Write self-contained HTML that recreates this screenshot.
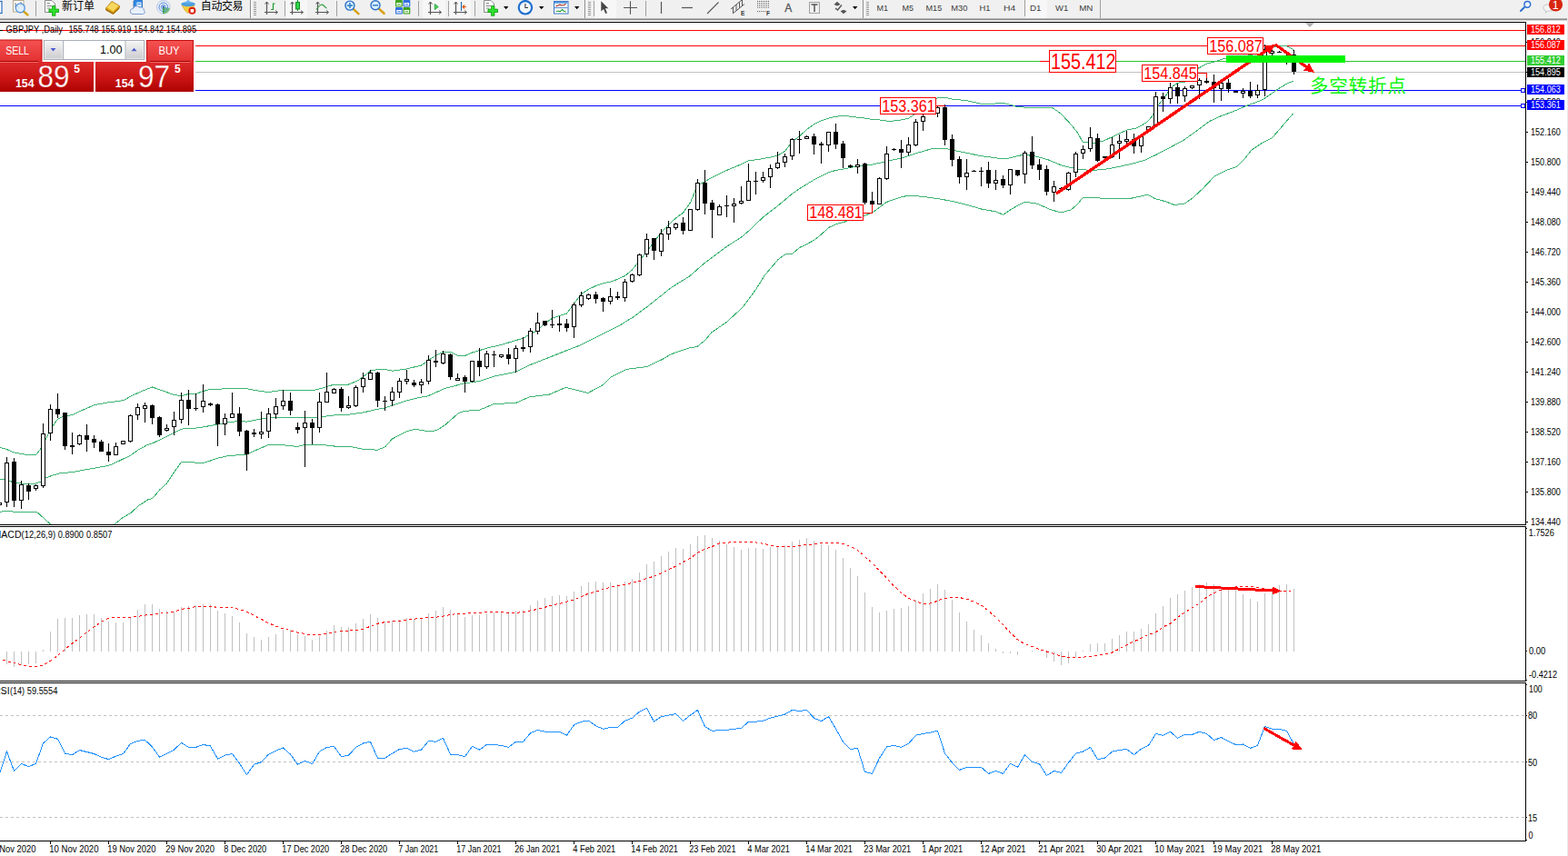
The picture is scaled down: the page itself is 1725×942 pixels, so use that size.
<!DOCTYPE html>
<html><head><meta charset="utf-8"><title>GBPJPY,Daily</title>
<style>html,body{margin:0;padding:0;background:#fff;}body{width:1725px;height:942px;overflow:hidden;font-family:"Liberation Sans",sans-serif;}svg{display:block;}</style>
</head><body>
<svg width="1725" height="942" viewBox="0 0 1725 942">
<rect x="0" y="0" width="1725" height="942" fill="#fff" />
<defs><clipPath id="cm"><rect x="0" y="25" width="1678" height="552"/></clipPath><clipPath id="cmacd"><rect x="0" y="580" width="1678" height="169"/></clipPath><clipPath id="crsi"><rect x="0" y="752" width="1678" height="173"/></clipPath><linearGradient id="gsell" x1="0" y1="0" x2="0" y2="1"><stop offset="0" stop-color="#f55252"/><stop offset="1" stop-color="#e23030"/></linearGradient><linearGradient id="gpan" x1="0" y1="0" x2="0" y2="1"><stop offset="0" stop-color="#dd2a2a"/><stop offset="0.5" stop-color="#cc1616"/><stop offset="1" stop-color="#ae0202"/></linearGradient><linearGradient id="gbtn" x1="0" y1="0" x2="0" y2="1"><stop offset="0" stop-color="#f4f4f4"/><stop offset="1" stop-color="#cdcdd0"/></linearGradient></defs>
<g clip-path="url(#cm)">
<g shape-rendering="crispEdges">
<rect x="0" y="33" width="1678" height="1" fill="#ff0000" />
<rect x="0" y="50" width="1678" height="1" fill="#ff0000" />
<rect x="0" y="67" width="1678" height="1" fill="#2fc72f" />
<rect x="0" y="79" width="1678" height="1" fill="#c0c0c0" />
<rect x="0" y="99" width="1678" height="1" fill="#0000ff" />
<rect x="0" y="116" width="1678" height="1" fill="#0000ff" />
</g>
<polyline points="0,492.3 7.6,494.6 15.3,497.9 28.7,500.3 40.1,500 44.9,493.7 50.1,484.1 57.3,469.8 63.5,461.2 70.7,457.7 79.3,456.8 87.9,452.6 104.2,445.5 119.5,442.8 135.7,440.7 145.3,435.4 156.7,430.2 167.6,426 177.8,429.6 191.1,434.4 199.5,435.7 207.6,433.4 215.6,433.4 223.4,430.6 231.5,428.3 238.9,428.3 251.5,427.5 270.6,427.5 282,429.8 295.4,431.6 311.5,429.1 327.9,429.4 344.2,429.8 354.7,427 366.1,423.5 383.3,423.1 392.9,419.3 399.6,414.5 407.6,408.2 415.5,406.3 423.5,406.5 431.5,408.2 447.6,405.9 463.4,402.1 471.5,396.4 479.5,391.2 487.6,387.2 497.2,388 503.5,391.4 511.5,391.4 519.6,388 535.4,383.2 551.5,379.4 567.5,374.6 575.6,372.3 583.4,367.5 591.4,363.7 599.5,355.7 607.5,350.3 615.5,347.5 623.5,345 631.6,334.1 639.6,323.6 647.6,318.2 655.5,314.6 663.5,311.7 671.5,310.2 679.5,307.3 687.6,303.5 695.6,296.8 703.4,286.9 711.5,276.8 719.5,266.2 727.6,255.6 735.5,247.2 743.5,240 751.5,234.2 759.6,222.8 767.4,203.7 775.4,199.8 783.5,195.1 799.5,187.4 815.6,180.7 823.4,176.9 834.7,175.4 847.5,173.1 855.5,171.2 863.5,166.4 871.6,155.9 879.6,149.8 887.6,142.5 895.5,136.8 903.5,132.9 911.5,130.1 919.5,128.3 927.6,127.2 935.6,128.2 951.5,130.1 959.5,131.4 967.6,132 979.1,133.5 991.5,132 999.6,130.1 1007.4,124.9 1015.4,118.2 1023.5,111.5 1031.5,107.7 1039.5,107.3 1047.5,109.1 1063.4,110.6 1079.5,114.4 1095.5,114 1103.5,113.4 1111.6,115.4 1119.6,117.7 1130,118.2 1144.9,118.2 1157.9,118.6 1167.1,125.1 1178.3,137.1 1185.7,146.4 1191.3,156.6 1204.3,157.2 1213.6,155.3 1226.6,149.2 1239.6,143.1 1250.7,140.9 1261.9,134.4 1267.4,127.9 1274.9,114.9 1282.3,105.6 1286,100 1287.5,96.9 1295.6,91.2 1303.4,90.2 1311.4,81.6 1317,75.9 1327.5,70.1 1335.5,68.2 1343.5,65.4 1349.1,64 1362.5,62.5 1375.5,60.6 1383.5,58.7 1391.5,54.8 1399.5,51.4 1407.6,50.6 1415.6,51 1421.7,53.9 1423.4,55.8" fill="none" stroke="#3cb371" stroke-width="1" shape-rendering="crispEdges" />
<polyline points="0,527.1 7.6,528.4 17.2,531.5 31.5,532.6 40.1,531.9 44.9,530 50.1,526.1 57.3,523.3 65.9,520.8 80.3,519.5 95.6,516.6 119.5,512.4 127.5,508.9 143.3,501.3 152.9,494.6 162.5,489.4 167.6,487.9 183.5,480.3 199.5,472.2 207.6,471.1 215.6,471.1 223.4,470 239.5,466.9 251.5,464.8 263.5,463.3 271.5,464.2 287.8,460.8 303.1,459.5 320.3,459.1 335.6,460 351.4,458.9 367.5,457 383.3,456.2 399.6,453.9 415.5,450.3 423.5,448.9 431.5,446.3 447.6,440.7 463.4,437.1 470,436.1 489.5,427.5 510.3,421.9 527.4,419.5 543.3,414.1 567.7,409.2 582.3,401.9 604.3,393.3 622.6,386 638.5,379.9 662.9,367.7 680,359.1 697.1,348.6 714.2,335.9 738.6,316.4 758.2,304.2 775.2,289.5 799.7,271.2 815.6,261 823.4,254.3 839.5,239 855.5,226.6 871.6,213.2 879.6,207.5 895.5,197.9 911.5,189.9 919.5,187.4 927.6,186.1 935.6,184.5 943.4,183 951.5,181.7 959.5,181.1 975.5,177.5 991.5,174 1007.4,168.9 1023.5,164.1 1031.5,163.1 1039.5,163.1 1047.5,165.1 1063.4,168.3 1079.5,171.7 1095.5,173.7 1103.5,175 1111.6,173.7 1119.6,171.7 1127.6,169.8 1130,170.6 1141.1,172.4 1154.1,176.2 1167.1,181.7 1178.3,184.5 1191.3,186.9 1204.3,187.3 1217.3,186 1232.2,183.2 1245.2,180.2 1260,176.2 1271.2,170.6 1282.3,165 1302.7,153.9 1315.7,144.6 1330.6,133.4 1343.6,127.5 1356.6,122.8 1369.6,117.1 1380.7,113 1390,109.3 1391.5,108 1399.5,102.6 1407.6,96.9 1415.6,92.1 1422.7,89.3" fill="none" stroke="#3cb371" stroke-width="1" shape-rendering="crispEdges" />
<polyline points="0,563.4 7.6,562.1 17.2,563.4 28.7,564 40.1,563 45.9,568.2 55.4,576.8 66.9,586.4 86,595 107,591.1 118.5,583.5 126.1,576.8 135.5,569.2 143.5,564.8 152.9,556.3 162.5,550 167.6,548.7 175.5,539.1 183.5,531.9 191.5,519.8 199.5,508.4 210.2,508.6 221.7,509.9 231.5,507 239.5,504.2 251.5,501.5 271.5,500.2 279.6,496.2 295.4,489.5 311.5,489.7 327.5,491.6 335.6,489.1 351.4,489.1 367.5,491 383.3,491 399.6,494.4 415.5,495.2 423.5,491.9 431.5,483 447.6,474.7 455.6,472.5 463.4,473.2 470,474.6 479.8,473.9 489.5,467.8 504.2,454.9 510.3,452.4 527.4,451.2 543.3,444.6 567.7,443.4 582.3,436.8 604.3,434.1 622.6,426.3 647,432.4 662.9,423.8 672.7,414.6 689.8,406.3 711.8,403.6 728.9,395.3 738.6,389.7 758.2,382.8 766.7,381.6 775.2,375 782.6,366 799.7,354.2 816.8,338.4 831.4,318.8 841.2,303 855.8,285.9 863.5,280.1 871.6,279.2 879.6,272.5 887.6,268.6 895.5,264.4 903.5,258.1 911.5,250.5 919.5,246.7 927.6,244.7 935.6,241.9 943.4,240 951.5,237.1 959.5,234.2 967.6,228.1 975.5,222.4 991.5,216.7 999.6,215.3 1015.4,216.3 1031.5,218.6 1047.5,221.4 1063.4,225.3 1079.5,230 1095.5,232.9 1103.5,236.3 1111.6,231 1119.6,226.2 1127.6,222.4 1130,222.6 1141.1,224.1 1154.1,230 1167.1,234.1 1178.3,230.9 1185.7,224.4 1191.3,217.4 1208,217.9 1226.6,218.9 1241.4,218.9 1254.4,216.1 1262.8,214.2 1271.2,218.9 1282.3,221.7 1291.6,225.4 1302.7,224.4 1312,217.9 1323.2,207.7 1336.2,193.8 1349.2,187.3 1360.3,183.6 1369.6,174.3 1377,165 1388.2,157.6 1399.3,152 1410.5,139 1422.5,125.1" fill="none" stroke="#3cb371" stroke-width="1" shape-rendering="crispEdges" />
<g shape-rendering="crispEdges">
<rect x="-1" y="552" width="1" height="5" fill="#000" />
<rect x="-3" y="553" width="5" height="3" fill="#000" />
<rect x="-2" y="554" width="3" height="1" fill="#fff" />
<rect x="7" y="503" width="1" height="55" fill="#000" />
<rect x="5" y="509" width="5" height="44" fill="#000" />
<rect x="6" y="510" width="3" height="42" fill="#fff" />
<rect x="15" y="504" width="1" height="54" fill="#000" />
<rect x="13" y="508" width="5" height="43" fill="#000" />
<rect x="23" y="529" width="1" height="31" fill="#000" />
<rect x="21" y="533" width="5" height="18" fill="#000" />
<rect x="22" y="534" width="3" height="16" fill="#fff" />
<rect x="31" y="532" width="1" height="18" fill="#000" />
<rect x="29" y="534" width="5" height="7" fill="#000" />
<rect x="39" y="533" width="1" height="7" fill="#000" />
<rect x="37" y="534" width="5" height="4" fill="#000" />
<rect x="38" y="535" width="3" height="2" fill="#fff" />
<rect x="47" y="466" width="1" height="71" fill="#000" />
<rect x="45" y="477" width="5" height="58" fill="#000" />
<rect x="46" y="478" width="3" height="56" fill="#fff" />
<rect x="55" y="445" width="1" height="40" fill="#000" />
<rect x="53" y="450" width="5" height="27" fill="#000" />
<rect x="54" y="451" width="3" height="25" fill="#fff" />
<rect x="63" y="433" width="1" height="27" fill="#000" />
<rect x="61" y="450" width="5" height="6" fill="#000" />
<rect x="71" y="454" width="1" height="41" fill="#000" />
<rect x="69" y="454" width="5" height="37" fill="#000" />
<rect x="79" y="476" width="1" height="24" fill="#000" />
<rect x="77" y="490" width="5" height="2" fill="#000" />
<rect x="87" y="478" width="1" height="12" fill="#000" />
<rect x="85" y="479" width="5" height="10" fill="#000" />
<rect x="86" y="480" width="3" height="8" fill="#fff" />
<rect x="95" y="467" width="1" height="30" fill="#000" />
<rect x="93" y="479" width="5" height="5" fill="#000" />
<rect x="103" y="479" width="1" height="14" fill="#000" />
<rect x="101" y="483" width="5" height="4" fill="#000" />
<rect x="111" y="484" width="1" height="13" fill="#000" />
<rect x="109" y="486" width="5" height="11" fill="#000" />
<rect x="119" y="488" width="1" height="20" fill="#000" />
<rect x="117" y="497" width="5" height="4" fill="#000" />
<rect x="127" y="487" width="1" height="14" fill="#000" />
<rect x="125" y="491" width="5" height="10" fill="#000" />
<rect x="126" y="492" width="3" height="8" fill="#fff" />
<rect x="135" y="485" width="1" height="4" fill="#000" />
<rect x="133" y="485" width="5" height="4" fill="#000" />
<rect x="134" y="486" width="3" height="2" fill="#fff" />
<rect x="143" y="456" width="1" height="31" fill="#000" />
<rect x="141" y="457" width="5" height="29" fill="#000" />
<rect x="142" y="458" width="3" height="27" fill="#fff" />
<rect x="151" y="444" width="1" height="18" fill="#000" />
<rect x="149" y="448" width="5" height="9" fill="#000" />
<rect x="150" y="449" width="3" height="7" fill="#fff" />
<rect x="159" y="443" width="1" height="22" fill="#000" />
<rect x="157" y="446" width="5" height="4" fill="#000" />
<rect x="158" y="447" width="3" height="2" fill="#fff" />
<rect x="167" y="445" width="1" height="22" fill="#000" />
<rect x="165" y="446" width="5" height="14" fill="#000" />
<rect x="175" y="458" width="1" height="23" fill="#000" />
<rect x="173" y="459" width="5" height="20" fill="#000" />
<rect x="183" y="467" width="1" height="8" fill="#000" />
<rect x="181" y="471" width="5" height="3" fill="#000" />
<rect x="182" y="472" width="3" height="1" fill="#fff" />
<rect x="191" y="453" width="1" height="26" fill="#000" />
<rect x="189" y="462" width="5" height="8" fill="#000" />
<rect x="190" y="463" width="3" height="6" fill="#fff" />
<rect x="199" y="432" width="1" height="34" fill="#000" />
<rect x="197" y="440" width="5" height="22" fill="#000" />
<rect x="198" y="441" width="3" height="20" fill="#fff" />
<rect x="207" y="429" width="1" height="39" fill="#000" />
<rect x="205" y="440" width="5" height="10" fill="#000" />
<rect x="215" y="433" width="1" height="19" fill="#000" />
<rect x="213" y="449" width="5" height="1" fill="#000" />
<rect x="223" y="423" width="1" height="31" fill="#000" />
<rect x="221" y="441" width="5" height="7" fill="#000" />
<rect x="222" y="442" width="3" height="5" fill="#fff" />
<rect x="231" y="443" width="1" height="4" fill="#000" />
<rect x="229" y="444" width="5" height="2" fill="#000" />
<rect x="239" y="444" width="1" height="47" fill="#000" />
<rect x="237" y="445" width="5" height="22" fill="#000" />
<rect x="247" y="455" width="1" height="24" fill="#000" />
<rect x="245" y="460" width="5" height="7" fill="#000" />
<rect x="246" y="461" width="3" height="5" fill="#fff" />
<rect x="255" y="432" width="1" height="28" fill="#000" />
<rect x="253" y="455" width="5" height="5" fill="#000" />
<rect x="254" y="456" width="3" height="3" fill="#fff" />
<rect x="263" y="448" width="1" height="32" fill="#000" />
<rect x="261" y="455" width="5" height="20" fill="#000" />
<rect x="271" y="473" width="1" height="45" fill="#000" />
<rect x="269" y="474" width="5" height="26" fill="#000" />
<rect x="279" y="472" width="1" height="9" fill="#000" />
<rect x="277" y="476" width="5" height="2" fill="#000" />
<rect x="287" y="453" width="1" height="30" fill="#000" />
<rect x="285" y="475" width="5" height="3" fill="#000" />
<rect x="286" y="476" width="3" height="1" fill="#fff" />
<rect x="295" y="449" width="1" height="33" fill="#000" />
<rect x="293" y="455" width="5" height="20" fill="#000" />
<rect x="294" y="456" width="3" height="18" fill="#fff" />
<rect x="303" y="438" width="1" height="23" fill="#000" />
<rect x="301" y="447" width="5" height="9" fill="#000" />
<rect x="302" y="448" width="3" height="7" fill="#fff" />
<rect x="311" y="429" width="1" height="22" fill="#000" />
<rect x="309" y="441" width="5" height="6" fill="#000" />
<rect x="310" y="442" width="3" height="4" fill="#fff" />
<rect x="319" y="432" width="1" height="25" fill="#000" />
<rect x="317" y="441" width="5" height="11" fill="#000" />
<rect x="327" y="465" width="1" height="12" fill="#000" />
<rect x="325" y="470" width="5" height="3" fill="#000" />
<rect x="335" y="452" width="1" height="62" fill="#000" />
<rect x="333" y="465" width="5" height="6" fill="#000" />
<rect x="334" y="466" width="3" height="4" fill="#fff" />
<rect x="343" y="461" width="1" height="28" fill="#000" />
<rect x="341" y="465" width="5" height="6" fill="#000" />
<rect x="351" y="432" width="1" height="44" fill="#000" />
<rect x="349" y="442" width="5" height="29" fill="#000" />
<rect x="350" y="443" width="3" height="27" fill="#fff" />
<rect x="359" y="410" width="1" height="33" fill="#000" />
<rect x="357" y="431" width="5" height="12" fill="#000" />
<rect x="358" y="432" width="3" height="10" fill="#fff" />
<rect x="367" y="427" width="1" height="6" fill="#000" />
<rect x="365" y="428" width="5" height="5" fill="#000" />
<rect x="366" y="429" width="3" height="3" fill="#fff" />
<rect x="375" y="426" width="1" height="27" fill="#000" />
<rect x="373" y="428" width="5" height="21" fill="#000" />
<rect x="383" y="436" width="1" height="14" fill="#000" />
<rect x="381" y="446" width="5" height="3" fill="#000" />
<rect x="382" y="447" width="3" height="1" fill="#fff" />
<rect x="391" y="424" width="1" height="24" fill="#000" />
<rect x="389" y="426" width="5" height="21" fill="#000" />
<rect x="390" y="427" width="3" height="19" fill="#fff" />
<rect x="399" y="410" width="1" height="22" fill="#000" />
<rect x="397" y="416" width="5" height="10" fill="#000" />
<rect x="398" y="417" width="3" height="8" fill="#fff" />
<rect x="407" y="407" width="1" height="11" fill="#000" />
<rect x="405" y="410" width="5" height="8" fill="#000" />
<rect x="406" y="411" width="3" height="6" fill="#fff" />
<rect x="415" y="409" width="1" height="39" fill="#000" />
<rect x="413" y="410" width="5" height="31" fill="#000" />
<rect x="423" y="436" width="1" height="16" fill="#000" />
<rect x="421" y="441" width="5" height="1" fill="#000" />
<rect x="431" y="426" width="1" height="21" fill="#000" />
<rect x="429" y="431" width="5" height="10" fill="#000" />
<rect x="430" y="432" width="3" height="8" fill="#fff" />
<rect x="439" y="416" width="1" height="22" fill="#000" />
<rect x="437" y="419" width="5" height="13" fill="#000" />
<rect x="438" y="420" width="3" height="11" fill="#fff" />
<rect x="447" y="407" width="1" height="16" fill="#000" />
<rect x="445" y="417" width="5" height="3" fill="#000" />
<rect x="446" y="418" width="3" height="1" fill="#fff" />
<rect x="455" y="418" width="1" height="8" fill="#000" />
<rect x="453" y="421" width="5" height="3" fill="#000" />
<rect x="463" y="417" width="1" height="16" fill="#000" />
<rect x="461" y="420" width="5" height="4" fill="#000" />
<rect x="462" y="421" width="3" height="2" fill="#fff" />
<rect x="471" y="391" width="1" height="32" fill="#000" />
<rect x="469" y="396" width="5" height="24" fill="#000" />
<rect x="470" y="397" width="3" height="22" fill="#fff" />
<rect x="479" y="385" width="1" height="19" fill="#000" />
<rect x="477" y="397" width="5" height="2" fill="#000" />
<rect x="487" y="386" width="1" height="15" fill="#000" />
<rect x="485" y="389" width="5" height="11" fill="#000" />
<rect x="486" y="390" width="3" height="9" fill="#fff" />
<rect x="495" y="389" width="1" height="29" fill="#000" />
<rect x="493" y="390" width="5" height="25" fill="#000" />
<rect x="503" y="411" width="1" height="8" fill="#000" />
<rect x="501" y="416" width="5" height="3" fill="#000" />
<rect x="502" y="417" width="3" height="1" fill="#fff" />
<rect x="511" y="413" width="1" height="19" fill="#000" />
<rect x="509" y="415" width="5" height="5" fill="#000" />
<rect x="519" y="397" width="1" height="24" fill="#000" />
<rect x="517" y="397" width="5" height="23" fill="#000" />
<rect x="518" y="398" width="3" height="21" fill="#fff" />
<rect x="527" y="383" width="1" height="31" fill="#000" />
<rect x="525" y="397" width="5" height="7" fill="#000" />
<rect x="535" y="386" width="1" height="20" fill="#000" />
<rect x="533" y="389" width="5" height="15" fill="#000" />
<rect x="534" y="390" width="3" height="13" fill="#fff" />
<rect x="543" y="386" width="1" height="18" fill="#000" />
<rect x="541" y="390" width="5" height="1" fill="#000" />
<rect x="551" y="390" width="1" height="4" fill="#000" />
<rect x="549" y="390" width="5" height="3" fill="#000" />
<rect x="550" y="391" width="3" height="1" fill="#fff" />
<rect x="559" y="383" width="1" height="18" fill="#000" />
<rect x="557" y="390" width="5" height="5" fill="#000" />
<rect x="567" y="380" width="1" height="30" fill="#000" />
<rect x="565" y="383" width="5" height="12" fill="#000" />
<rect x="566" y="384" width="3" height="10" fill="#fff" />
<rect x="575" y="371" width="1" height="16" fill="#000" />
<rect x="573" y="382" width="5" height="2" fill="#000" />
<rect x="583" y="361" width="1" height="27" fill="#000" />
<rect x="581" y="364" width="5" height="18" fill="#000" />
<rect x="582" y="365" width="3" height="16" fill="#fff" />
<rect x="591" y="344" width="1" height="24" fill="#000" />
<rect x="589" y="355" width="5" height="10" fill="#000" />
<rect x="590" y="356" width="3" height="8" fill="#fff" />
<rect x="599" y="353" width="1" height="6" fill="#000" />
<rect x="597" y="353" width="5" height="5" fill="#000" />
<rect x="607" y="341" width="1" height="20" fill="#000" />
<rect x="605" y="357" width="5" height="1" fill="#000" />
<rect x="615" y="348" width="1" height="17" fill="#000" />
<rect x="613" y="356" width="5" height="2" fill="#000" />
<rect x="623" y="351" width="1" height="14" fill="#000" />
<rect x="621" y="356" width="5" height="5" fill="#000" />
<rect x="631" y="333" width="1" height="39" fill="#000" />
<rect x="629" y="335" width="5" height="25" fill="#000" />
<rect x="630" y="336" width="3" height="23" fill="#fff" />
<rect x="639" y="321" width="1" height="17" fill="#000" />
<rect x="637" y="325" width="5" height="11" fill="#000" />
<rect x="638" y="326" width="3" height="9" fill="#fff" />
<rect x="647" y="323" width="1" height="7" fill="#000" />
<rect x="645" y="324" width="5" height="5" fill="#000" />
<rect x="646" y="325" width="3" height="3" fill="#fff" />
<rect x="655" y="321" width="1" height="13" fill="#000" />
<rect x="653" y="324" width="5" height="5" fill="#000" />
<rect x="663" y="327" width="1" height="16" fill="#000" />
<rect x="661" y="328" width="5" height="4" fill="#000" />
<rect x="671" y="317" width="1" height="18" fill="#000" />
<rect x="669" y="326" width="5" height="6" fill="#000" />
<rect x="670" y="327" width="3" height="4" fill="#fff" />
<rect x="679" y="321" width="1" height="9" fill="#000" />
<rect x="677" y="326" width="5" height="2" fill="#000" />
<rect x="687" y="307" width="1" height="25" fill="#000" />
<rect x="685" y="310" width="5" height="18" fill="#000" />
<rect x="686" y="311" width="3" height="16" fill="#fff" />
<rect x="695" y="301" width="1" height="10" fill="#000" />
<rect x="693" y="302" width="5" height="8" fill="#000" />
<rect x="694" y="303" width="3" height="6" fill="#fff" />
<rect x="703" y="279" width="1" height="25" fill="#000" />
<rect x="701" y="280" width="5" height="23" fill="#000" />
<rect x="702" y="281" width="3" height="21" fill="#fff" />
<rect x="711" y="257" width="1" height="26" fill="#000" />
<rect x="709" y="263" width="5" height="17" fill="#000" />
<rect x="710" y="264" width="3" height="15" fill="#fff" />
<rect x="719" y="262" width="1" height="24" fill="#000" />
<rect x="717" y="262" width="5" height="14" fill="#000" />
<rect x="727" y="252" width="1" height="30" fill="#000" />
<rect x="725" y="257" width="5" height="20" fill="#000" />
<rect x="726" y="258" width="3" height="18" fill="#fff" />
<rect x="735" y="243" width="1" height="21" fill="#000" />
<rect x="733" y="250" width="5" height="8" fill="#000" />
<rect x="734" y="251" width="3" height="6" fill="#fff" />
<rect x="743" y="245" width="1" height="8" fill="#000" />
<rect x="741" y="246" width="5" height="5" fill="#000" />
<rect x="742" y="247" width="3" height="3" fill="#fff" />
<rect x="751" y="239" width="1" height="19" fill="#000" />
<rect x="749" y="245" width="5" height="9" fill="#000" />
<rect x="759" y="230" width="1" height="24" fill="#000" />
<rect x="757" y="230" width="5" height="24" fill="#000" />
<rect x="758" y="231" width="3" height="22" fill="#fff" />
<rect x="767" y="197" width="1" height="35" fill="#000" />
<rect x="765" y="201" width="5" height="30" fill="#000" />
<rect x="766" y="202" width="3" height="28" fill="#fff" />
<rect x="775" y="187" width="1" height="49" fill="#000" />
<rect x="773" y="201" width="5" height="23" fill="#000" />
<rect x="783" y="220" width="1" height="42" fill="#000" />
<rect x="781" y="223" width="5" height="8" fill="#000" />
<rect x="791" y="225" width="1" height="12" fill="#000" />
<rect x="789" y="227" width="5" height="10" fill="#000" />
<rect x="790" y="228" width="3" height="8" fill="#fff" />
<rect x="799" y="215" width="1" height="24" fill="#000" />
<rect x="797" y="226" width="5" height="1" fill="#000" />
<rect x="807" y="218" width="1" height="27" fill="#000" />
<rect x="805" y="224" width="5" height="3" fill="#000" />
<rect x="806" y="225" width="3" height="1" fill="#fff" />
<rect x="815" y="205" width="1" height="20" fill="#000" />
<rect x="813" y="221" width="5" height="3" fill="#000" />
<rect x="814" y="222" width="3" height="1" fill="#fff" />
<rect x="823" y="180" width="1" height="41" fill="#000" />
<rect x="821" y="199" width="5" height="22" fill="#000" />
<rect x="822" y="200" width="3" height="20" fill="#fff" />
<rect x="831" y="189" width="1" height="25" fill="#000" />
<rect x="829" y="199" width="5" height="1" fill="#000" />
<rect x="839" y="189" width="1" height="12" fill="#000" />
<rect x="837" y="195" width="5" height="4" fill="#000" />
<rect x="838" y="196" width="3" height="2" fill="#fff" />
<rect x="847" y="181" width="1" height="26" fill="#000" />
<rect x="845" y="185" width="5" height="10" fill="#000" />
<rect x="846" y="186" width="3" height="8" fill="#fff" />
<rect x="855" y="167" width="1" height="19" fill="#000" />
<rect x="853" y="179" width="5" height="6" fill="#000" />
<rect x="854" y="180" width="3" height="4" fill="#fff" />
<rect x="863" y="169" width="1" height="15" fill="#000" />
<rect x="861" y="172" width="5" height="7" fill="#000" />
<rect x="862" y="173" width="3" height="5" fill="#fff" />
<rect x="871" y="152" width="1" height="24" fill="#000" />
<rect x="869" y="153" width="5" height="19" fill="#000" />
<rect x="870" y="154" width="3" height="17" fill="#fff" />
<rect x="879" y="144" width="1" height="25" fill="#000" />
<rect x="877" y="153" width="5" height="1" fill="#000" />
<rect x="887" y="149" width="1" height="4" fill="#000" />
<rect x="885" y="150" width="5" height="3" fill="#000" />
<rect x="886" y="151" width="3" height="1" fill="#fff" />
<rect x="895" y="147" width="1" height="23" fill="#000" />
<rect x="893" y="150" width="5" height="9" fill="#000" />
<rect x="903" y="156" width="1" height="24" fill="#000" />
<rect x="901" y="158" width="5" height="2" fill="#000" />
<rect x="911" y="145" width="1" height="22" fill="#000" />
<rect x="909" y="145" width="5" height="15" fill="#000" />
<rect x="910" y="146" width="3" height="13" fill="#fff" />
<rect x="919" y="136" width="1" height="28" fill="#000" />
<rect x="917" y="145" width="5" height="14" fill="#000" />
<rect x="927" y="155" width="1" height="30" fill="#000" />
<rect x="925" y="158" width="5" height="16" fill="#000" />
<rect x="935" y="181" width="1" height="4" fill="#000" />
<rect x="933" y="182" width="5" height="2" fill="#000" />
<rect x="943" y="175" width="1" height="16" fill="#000" />
<rect x="941" y="181" width="5" height="3" fill="#000" />
<rect x="942" y="182" width="3" height="1" fill="#fff" />
<rect x="951" y="179" width="1" height="46" fill="#000" />
<rect x="949" y="180" width="5" height="43" fill="#000" />
<rect x="959" y="211" width="1" height="23" fill="#000" />
<rect x="957" y="221" width="5" height="4" fill="#000" />
<rect x="967" y="195" width="1" height="30" fill="#000" />
<rect x="965" y="196" width="5" height="29" fill="#000" />
<rect x="966" y="197" width="3" height="27" fill="#fff" />
<rect x="975" y="161" width="1" height="37" fill="#000" />
<rect x="973" y="169" width="5" height="28" fill="#000" />
<rect x="974" y="170" width="3" height="26" fill="#fff" />
<rect x="983" y="163" width="1" height="3" fill="#000" />
<rect x="981" y="164" width="5" height="1" fill="#000" />
<rect x="991" y="154" width="1" height="31" fill="#000" />
<rect x="989" y="164" width="5" height="4" fill="#000" />
<rect x="999" y="151" width="1" height="20" fill="#000" />
<rect x="997" y="159" width="5" height="9" fill="#000" />
<rect x="998" y="160" width="3" height="7" fill="#fff" />
<rect x="1007" y="131" width="1" height="30" fill="#000" />
<rect x="1005" y="134" width="5" height="26" fill="#000" />
<rect x="1006" y="135" width="3" height="24" fill="#fff" />
<rect x="1015" y="124" width="1" height="20" fill="#000" />
<rect x="1013" y="128" width="5" height="6" fill="#000" />
<rect x="1014" y="129" width="3" height="4" fill="#fff" />
<rect x="1023" y="124" width="1" height="2" fill="#000" />
<rect x="1021" y="124" width="5" height="2" fill="#000" />
<rect x="1031" y="117" width="1" height="12" fill="#000" />
<rect x="1029" y="118" width="5" height="7" fill="#000" />
<rect x="1030" y="119" width="3" height="5" fill="#fff" />
<rect x="1039" y="115" width="1" height="45" fill="#000" />
<rect x="1037" y="118" width="5" height="36" fill="#000" />
<rect x="1047" y="148" width="1" height="35" fill="#000" />
<rect x="1045" y="153" width="5" height="23" fill="#000" />
<rect x="1055" y="172" width="1" height="30" fill="#000" />
<rect x="1053" y="175" width="5" height="20" fill="#000" />
<rect x="1063" y="175" width="1" height="34" fill="#000" />
<rect x="1061" y="190" width="5" height="5" fill="#000" />
<rect x="1062" y="191" width="3" height="3" fill="#fff" />
<rect x="1071" y="187" width="1" height="2" fill="#000" />
<rect x="1069" y="188" width="5" height="1" fill="#000" />
<rect x="1079" y="184" width="1" height="21" fill="#000" />
<rect x="1077" y="188" width="5" height="1" fill="#000" />
<rect x="1087" y="178" width="1" height="29" fill="#000" />
<rect x="1085" y="187" width="5" height="15" fill="#000" />
<rect x="1095" y="187" width="1" height="22" fill="#000" />
<rect x="1093" y="198" width="5" height="4" fill="#000" />
<rect x="1094" y="199" width="3" height="2" fill="#fff" />
<rect x="1103" y="193" width="1" height="14" fill="#000" />
<rect x="1101" y="197" width="5" height="7" fill="#000" />
<rect x="1111" y="186" width="1" height="28" fill="#000" />
<rect x="1109" y="186" width="5" height="18" fill="#000" />
<rect x="1110" y="187" width="3" height="16" fill="#fff" />
<rect x="1119" y="187" width="1" height="7" fill="#000" />
<rect x="1117" y="187" width="5" height="6" fill="#000" />
<rect x="1127" y="166" width="1" height="36" fill="#000" />
<rect x="1125" y="168" width="5" height="24" fill="#000" />
<rect x="1126" y="169" width="3" height="22" fill="#fff" />
<rect x="1135" y="150" width="1" height="36" fill="#000" />
<rect x="1133" y="167" width="5" height="15" fill="#000" />
<rect x="1143" y="175" width="1" height="23" fill="#000" />
<rect x="1141" y="181" width="5" height="6" fill="#000" />
<rect x="1151" y="182" width="1" height="33" fill="#000" />
<rect x="1149" y="186" width="5" height="25" fill="#000" />
<rect x="1159" y="199" width="1" height="23" fill="#000" />
<rect x="1157" y="205" width="5" height="7" fill="#000" />
<rect x="1158" y="206" width="3" height="5" fill="#fff" />
<rect x="1167" y="206" width="1" height="3" fill="#000" />
<rect x="1165" y="207" width="5" height="1" fill="#000" />
<rect x="1175" y="189" width="1" height="21" fill="#000" />
<rect x="1173" y="190" width="5" height="19" fill="#000" />
<rect x="1174" y="191" width="3" height="17" fill="#fff" />
<rect x="1183" y="167" width="1" height="28" fill="#000" />
<rect x="1181" y="169" width="5" height="21" fill="#000" />
<rect x="1182" y="170" width="3" height="19" fill="#fff" />
<rect x="1191" y="160" width="1" height="15" fill="#000" />
<rect x="1189" y="164" width="5" height="5" fill="#000" />
<rect x="1190" y="165" width="3" height="3" fill="#fff" />
<rect x="1199" y="140" width="1" height="27" fill="#000" />
<rect x="1197" y="151" width="5" height="13" fill="#000" />
<rect x="1198" y="152" width="3" height="11" fill="#fff" />
<rect x="1207" y="147" width="1" height="31" fill="#000" />
<rect x="1205" y="152" width="5" height="25" fill="#000" />
<rect x="1215" y="172" width="1" height="2" fill="#000" />
<rect x="1213" y="172" width="5" height="2" fill="#000" />
<rect x="1223" y="151" width="1" height="23" fill="#000" />
<rect x="1221" y="159" width="5" height="14" fill="#000" />
<rect x="1222" y="160" width="3" height="12" fill="#fff" />
<rect x="1231" y="148" width="1" height="27" fill="#000" />
<rect x="1229" y="155" width="5" height="3" fill="#000" />
<rect x="1230" y="156" width="3" height="1" fill="#fff" />
<rect x="1239" y="144" width="1" height="14" fill="#000" />
<rect x="1237" y="153" width="5" height="3" fill="#000" />
<rect x="1238" y="154" width="3" height="1" fill="#fff" />
<rect x="1247" y="147" width="1" height="22" fill="#000" />
<rect x="1245" y="153" width="5" height="8" fill="#000" />
<rect x="1255" y="149" width="1" height="19" fill="#000" />
<rect x="1253" y="149" width="5" height="12" fill="#000" />
<rect x="1254" y="150" width="3" height="10" fill="#fff" />
<rect x="1263" y="139" width="1" height="4" fill="#000" />
<rect x="1261" y="139" width="5" height="4" fill="#000" />
<rect x="1262" y="140" width="3" height="2" fill="#fff" />
<rect x="1271" y="101" width="1" height="38" fill="#000" />
<rect x="1269" y="106" width="5" height="33" fill="#000" />
<rect x="1270" y="107" width="3" height="31" fill="#fff" />
<rect x="1279" y="102" width="1" height="21" fill="#000" />
<rect x="1277" y="106" width="5" height="3" fill="#000" />
<rect x="1287" y="91" width="1" height="23" fill="#000" />
<rect x="1285" y="96" width="5" height="13" fill="#000" />
<rect x="1286" y="97" width="3" height="11" fill="#fff" />
<rect x="1295" y="92" width="1" height="22" fill="#000" />
<rect x="1293" y="96" width="5" height="10" fill="#000" />
<rect x="1303" y="95" width="1" height="17" fill="#000" />
<rect x="1301" y="97" width="5" height="9" fill="#000" />
<rect x="1302" y="98" width="3" height="7" fill="#fff" />
<rect x="1311" y="94" width="1" height="4" fill="#000" />
<rect x="1309" y="94" width="5" height="3" fill="#000" />
<rect x="1310" y="95" width="3" height="1" fill="#fff" />
<rect x="1319" y="86" width="1" height="23" fill="#000" />
<rect x="1317" y="88" width="5" height="6" fill="#000" />
<rect x="1318" y="89" width="3" height="4" fill="#fff" />
<rect x="1327" y="81" width="1" height="11" fill="#000" />
<rect x="1325" y="89" width="5" height="2" fill="#000" />
<rect x="1335" y="82" width="1" height="31" fill="#000" />
<rect x="1333" y="90" width="5" height="7" fill="#000" />
<rect x="1343" y="89" width="1" height="22" fill="#000" />
<rect x="1341" y="91" width="5" height="7" fill="#000" />
<rect x="1342" y="92" width="3" height="5" fill="#fff" />
<rect x="1351" y="87" width="1" height="15" fill="#000" />
<rect x="1349" y="91" width="5" height="7" fill="#000" />
<rect x="1359" y="100" width="1" height="2" fill="#000" />
<rect x="1357" y="100" width="5" height="2" fill="#000" />
<rect x="1367" y="97" width="1" height="11" fill="#000" />
<rect x="1365" y="100" width="5" height="3" fill="#000" />
<rect x="1366" y="101" width="3" height="1" fill="#fff" />
<rect x="1375" y="90" width="1" height="18" fill="#000" />
<rect x="1373" y="100" width="5" height="6" fill="#000" />
<rect x="1383" y="93" width="1" height="15" fill="#000" />
<rect x="1381" y="99" width="5" height="6" fill="#000" />
<rect x="1382" y="100" width="3" height="4" fill="#fff" />
<rect x="1391" y="49" width="1" height="57" fill="#000" />
<rect x="1389" y="54" width="5" height="45" fill="#000" />
<rect x="1390" y="55" width="3" height="43" fill="#fff" />
<rect x="1399" y="50" width="1" height="11" fill="#000" />
<rect x="1397" y="56" width="5" height="3" fill="#000" />
<rect x="1398" y="57" width="3" height="1" fill="#fff" />
<rect x="1407" y="56" width="1" height="2" fill="#000" />
<rect x="1405" y="57" width="5" height="1" fill="#000" />
<rect x="1415" y="56" width="1" height="15" fill="#000" />
<rect x="1413" y="57" width="5" height="2" fill="#000" />
<rect x="1423" y="55" width="1" height="27" fill="#000" />
<rect x="1421" y="60" width="5" height="19" fill="#000" />
</g>
</g>
<g clip-path="url(#cmacd)">
<g shape-rendering="crispEdges">
<rect x="7" y="717" width="1" height="14" fill="#c0c0c0" />
<rect x="15" y="717" width="1" height="17" fill="#c0c0c0" />
<rect x="23" y="717" width="1" height="15" fill="#c0c0c0" />
<rect x="31" y="717" width="1" height="14" fill="#c0c0c0" />
<rect x="39" y="717" width="1" height="13" fill="#c0c0c0" />
<rect x="47" y="715" width="1" height="2" fill="#c0c0c0" />
<rect x="55" y="695" width="1" height="22" fill="#c0c0c0" />
<rect x="63" y="681" width="1" height="36" fill="#c0c0c0" />
<rect x="71" y="680" width="1" height="37" fill="#c0c0c0" />
<rect x="79" y="680" width="1" height="37" fill="#c0c0c0" />
<rect x="87" y="677" width="1" height="40" fill="#c0c0c0" />
<rect x="95" y="676" width="1" height="41" fill="#c0c0c0" />
<rect x="103" y="676" width="1" height="41" fill="#c0c0c0" />
<rect x="111" y="680" width="1" height="37" fill="#c0c0c0" />
<rect x="119" y="684" width="1" height="33" fill="#c0c0c0" />
<rect x="127" y="685" width="1" height="32" fill="#c0c0c0" />
<rect x="135" y="685" width="1" height="32" fill="#c0c0c0" />
<rect x="143" y="679" width="1" height="38" fill="#c0c0c0" />
<rect x="151" y="671" width="1" height="46" fill="#c0c0c0" />
<rect x="159" y="665" width="1" height="52" fill="#c0c0c0" />
<rect x="167" y="665" width="1" height="52" fill="#c0c0c0" />
<rect x="175" y="670" width="1" height="47" fill="#c0c0c0" />
<rect x="183" y="672" width="1" height="45" fill="#c0c0c0" />
<rect x="191" y="673" width="1" height="44" fill="#c0c0c0" />
<rect x="199" y="668" width="1" height="49" fill="#c0c0c0" />
<rect x="207" y="667" width="1" height="50" fill="#c0c0c0" />
<rect x="215" y="666" width="1" height="51" fill="#c0c0c0" />
<rect x="223" y="665" width="1" height="52" fill="#c0c0c0" />
<rect x="231" y="665" width="1" height="52" fill="#c0c0c0" />
<rect x="239" y="672" width="1" height="45" fill="#c0c0c0" />
<rect x="247" y="675" width="1" height="42" fill="#c0c0c0" />
<rect x="255" y="678" width="1" height="39" fill="#c0c0c0" />
<rect x="263" y="685" width="1" height="32" fill="#c0c0c0" />
<rect x="271" y="697" width="1" height="20" fill="#c0c0c0" />
<rect x="279" y="701" width="1" height="16" fill="#c0c0c0" />
<rect x="287" y="704" width="1" height="13" fill="#c0c0c0" />
<rect x="295" y="701" width="1" height="16" fill="#c0c0c0" />
<rect x="303" y="698" width="1" height="19" fill="#c0c0c0" />
<rect x="311" y="693" width="1" height="24" fill="#c0c0c0" />
<rect x="319" y="693" width="1" height="24" fill="#c0c0c0" />
<rect x="327" y="698" width="1" height="19" fill="#c0c0c0" />
<rect x="335" y="700" width="1" height="17" fill="#c0c0c0" />
<rect x="343" y="704" width="1" height="13" fill="#c0c0c0" />
<rect x="351" y="700" width="1" height="17" fill="#c0c0c0" />
<rect x="359" y="694" width="1" height="23" fill="#c0c0c0" />
<rect x="367" y="688" width="1" height="29" fill="#c0c0c0" />
<rect x="375" y="690" width="1" height="27" fill="#c0c0c0" />
<rect x="383" y="690" width="1" height="27" fill="#c0c0c0" />
<rect x="391" y="686" width="1" height="31" fill="#c0c0c0" />
<rect x="399" y="681" width="1" height="36" fill="#c0c0c0" />
<rect x="407" y="676" width="1" height="41" fill="#c0c0c0" />
<rect x="415" y="680" width="1" height="37" fill="#c0c0c0" />
<rect x="423" y="684" width="1" height="33" fill="#c0c0c0" />
<rect x="431" y="683" width="1" height="34" fill="#c0c0c0" />
<rect x="439" y="682" width="1" height="35" fill="#c0c0c0" />
<rect x="447" y="680" width="1" height="37" fill="#c0c0c0" />
<rect x="455" y="681" width="1" height="36" fill="#c0c0c0" />
<rect x="463" y="681" width="1" height="36" fill="#c0c0c0" />
<rect x="471" y="675" width="1" height="42" fill="#c0c0c0" />
<rect x="479" y="672" width="1" height="45" fill="#c0c0c0" />
<rect x="487" y="668" width="1" height="49" fill="#c0c0c0" />
<rect x="495" y="671" width="1" height="46" fill="#c0c0c0" />
<rect x="503" y="676" width="1" height="41" fill="#c0c0c0" />
<rect x="511" y="679" width="1" height="38" fill="#c0c0c0" />
<rect x="519" y="677" width="1" height="40" fill="#c0c0c0" />
<rect x="527" y="677" width="1" height="40" fill="#c0c0c0" />
<rect x="535" y="675" width="1" height="42" fill="#c0c0c0" />
<rect x="543" y="674" width="1" height="43" fill="#c0c0c0" />
<rect x="551" y="674" width="1" height="43" fill="#c0c0c0" />
<rect x="559" y="673" width="1" height="44" fill="#c0c0c0" />
<rect x="567" y="672" width="1" height="45" fill="#c0c0c0" />
<rect x="575" y="671" width="1" height="46" fill="#c0c0c0" />
<rect x="583" y="666" width="1" height="51" fill="#c0c0c0" />
<rect x="591" y="661" width="1" height="56" fill="#c0c0c0" />
<rect x="599" y="658" width="1" height="59" fill="#c0c0c0" />
<rect x="607" y="656" width="1" height="61" fill="#c0c0c0" />
<rect x="615" y="655" width="1" height="62" fill="#c0c0c0" />
<rect x="623" y="656" width="1" height="61" fill="#c0c0c0" />
<rect x="631" y="651" width="1" height="66" fill="#c0c0c0" />
<rect x="639" y="645" width="1" height="72" fill="#c0c0c0" />
<rect x="647" y="641" width="1" height="76" fill="#c0c0c0" />
<rect x="655" y="640" width="1" height="77" fill="#c0c0c0" />
<rect x="663" y="641" width="1" height="76" fill="#c0c0c0" />
<rect x="671" y="641" width="1" height="76" fill="#c0c0c0" />
<rect x="679" y="643" width="1" height="74" fill="#c0c0c0" />
<rect x="687" y="640" width="1" height="77" fill="#c0c0c0" />
<rect x="695" y="637" width="1" height="80" fill="#c0c0c0" />
<rect x="703" y="630" width="1" height="87" fill="#c0c0c0" />
<rect x="711" y="621" width="1" height="96" fill="#c0c0c0" />
<rect x="719" y="618" width="1" height="99" fill="#c0c0c0" />
<rect x="727" y="612" width="1" height="105" fill="#c0c0c0" />
<rect x="735" y="607" width="1" height="110" fill="#c0c0c0" />
<rect x="743" y="603" width="1" height="114" fill="#c0c0c0" />
<rect x="751" y="604" width="1" height="113" fill="#c0c0c0" />
<rect x="759" y="599" width="1" height="118" fill="#c0c0c0" />
<rect x="767" y="590" width="1" height="127" fill="#c0c0c0" />
<rect x="775" y="589" width="1" height="128" fill="#c0c0c0" />
<rect x="783" y="592" width="1" height="125" fill="#c0c0c0" />
<rect x="791" y="595" width="1" height="122" fill="#c0c0c0" />
<rect x="799" y="599" width="1" height="118" fill="#c0c0c0" />
<rect x="807" y="602" width="1" height="115" fill="#c0c0c0" />
<rect x="815" y="605" width="1" height="112" fill="#c0c0c0" />
<rect x="823" y="603" width="1" height="114" fill="#c0c0c0" />
<rect x="831" y="603" width="1" height="114" fill="#c0c0c0" />
<rect x="839" y="604" width="1" height="113" fill="#c0c0c0" />
<rect x="847" y="602" width="1" height="115" fill="#c0c0c0" />
<rect x="855" y="601" width="1" height="116" fill="#c0c0c0" />
<rect x="863" y="600" width="1" height="117" fill="#c0c0c0" />
<rect x="871" y="596" width="1" height="121" fill="#c0c0c0" />
<rect x="879" y="594" width="1" height="123" fill="#c0c0c0" />
<rect x="887" y="592" width="1" height="125" fill="#c0c0c0" />
<rect x="895" y="595" width="1" height="122" fill="#c0c0c0" />
<rect x="903" y="599" width="1" height="118" fill="#c0c0c0" />
<rect x="911" y="600" width="1" height="117" fill="#c0c0c0" />
<rect x="919" y="605" width="1" height="112" fill="#c0c0c0" />
<rect x="927" y="614" width="1" height="103" fill="#c0c0c0" />
<rect x="935" y="625" width="1" height="92" fill="#c0c0c0" />
<rect x="943" y="634" width="1" height="83" fill="#c0c0c0" />
<rect x="951" y="652" width="1" height="65" fill="#c0c0c0" />
<rect x="959" y="668" width="1" height="49" fill="#c0c0c0" />
<rect x="967" y="674" width="1" height="43" fill="#c0c0c0" />
<rect x="975" y="672" width="1" height="45" fill="#c0c0c0" />
<rect x="983" y="670" width="1" height="47" fill="#c0c0c0" />
<rect x="991" y="669" width="1" height="48" fill="#c0c0c0" />
<rect x="999" y="667" width="1" height="50" fill="#c0c0c0" />
<rect x="1007" y="660" width="1" height="57" fill="#c0c0c0" />
<rect x="1015" y="653" width="1" height="64" fill="#c0c0c0" />
<rect x="1023" y="648" width="1" height="69" fill="#c0c0c0" />
<rect x="1031" y="643" width="1" height="74" fill="#c0c0c0" />
<rect x="1039" y="649" width="1" height="68" fill="#c0c0c0" />
<rect x="1047" y="660" width="1" height="57" fill="#c0c0c0" />
<rect x="1055" y="674" width="1" height="43" fill="#c0c0c0" />
<rect x="1063" y="684" width="1" height="33" fill="#c0c0c0" />
<rect x="1071" y="693" width="1" height="24" fill="#c0c0c0" />
<rect x="1079" y="699" width="1" height="18" fill="#c0c0c0" />
<rect x="1087" y="708" width="1" height="9" fill="#c0c0c0" />
<rect x="1095" y="714" width="1" height="3" fill="#c0c0c0" />
<rect x="1103" y="717" width="1" height="2" fill="#c0c0c0" />
<rect x="1111" y="717" width="1" height="2" fill="#c0c0c0" />
<rect x="1119" y="717" width="1" height="4" fill="#c0c0c0" />
<rect x="1135" y="716" width="1" height="1" fill="#c0c0c0" />
<rect x="1151" y="717" width="1" height="7" fill="#c0c0c0" />
<rect x="1159" y="717" width="1" height="11" fill="#c0c0c0" />
<rect x="1167" y="717" width="1" height="15" fill="#c0c0c0" />
<rect x="1175" y="717" width="1" height="13" fill="#c0c0c0" />
<rect x="1183" y="717" width="1" height="6" fill="#c0c0c0" />
<rect x="1191" y="716" width="1" height="1" fill="#c0c0c0" />
<rect x="1199" y="709" width="1" height="8" fill="#c0c0c0" />
<rect x="1207" y="708" width="1" height="9" fill="#c0c0c0" />
<rect x="1215" y="708" width="1" height="9" fill="#c0c0c0" />
<rect x="1223" y="703" width="1" height="14" fill="#c0c0c0" />
<rect x="1231" y="699" width="1" height="18" fill="#c0c0c0" />
<rect x="1239" y="695" width="1" height="22" fill="#c0c0c0" />
<rect x="1247" y="695" width="1" height="22" fill="#c0c0c0" />
<rect x="1255" y="692" width="1" height="25" fill="#c0c0c0" />
<rect x="1263" y="687" width="1" height="30" fill="#c0c0c0" />
<rect x="1271" y="675" width="1" height="42" fill="#c0c0c0" />
<rect x="1279" y="667" width="1" height="50" fill="#c0c0c0" />
<rect x="1287" y="658" width="1" height="59" fill="#c0c0c0" />
<rect x="1295" y="654" width="1" height="63" fill="#c0c0c0" />
<rect x="1303" y="650" width="1" height="67" fill="#c0c0c0" />
<rect x="1311" y="646" width="1" height="71" fill="#c0c0c0" />
<rect x="1319" y="643" width="1" height="74" fill="#c0c0c0" />
<rect x="1327" y="641" width="1" height="76" fill="#c0c0c0" />
<rect x="1335" y="643" width="1" height="74" fill="#c0c0c0" />
<rect x="1343" y="645" width="1" height="72" fill="#c0c0c0" />
<rect x="1351" y="647" width="1" height="70" fill="#c0c0c0" />
<rect x="1359" y="649" width="1" height="68" fill="#c0c0c0" />
<rect x="1367" y="654" width="1" height="63" fill="#c0c0c0" />
<rect x="1375" y="659" width="1" height="58" fill="#c0c0c0" />
<rect x="1383" y="662" width="1" height="55" fill="#c0c0c0" />
<rect x="1391" y="653" width="1" height="64" fill="#c0c0c0" />
<rect x="1399" y="647" width="1" height="70" fill="#c0c0c0" />
<rect x="1407" y="644" width="1" height="73" fill="#c0c0c0" />
<rect x="1415" y="643" width="1" height="74" fill="#c0c0c0" />
<rect x="1423" y="648" width="1" height="69" fill="#c0c0c0" />
</g>
<polyline points="3,726.2 10.1,728.2 15.4,729.6 23.5,731.6 31.4,732.9 39.6,733.9 47.5,732.2 52.8,729.2 58.8,725.1 64.9,720.1 71,715 79.5,707.9 87.4,702.4 95.6,695.7 103.5,689.6 111.6,684.2 119.5,680.1 127.4,679.5 143.4,679.3 151.6,678.5 159.5,677.1 167.6,676 175.5,675.2 183.4,674.2 191.5,673.4 199.4,670.4 207.6,669.3 215.5,667.3 223.4,667.3 231.5,667.5 239.4,668.3 255.4,668.9 263.6,670.4 271.5,673.4 279.6,677.5 287.5,681.5 295.4,685.6 303.5,689.2 311.4,691.7 319.6,693.7 327.5,696.3 335.4,697.3 340,698.4 351.6,698.4 359.5,697.3 367.6,695.3 375.5,694.3 383.4,694.1 391.5,693.3 399.4,692.3 407.6,689.2 415.5,686.2 423.6,684.6 431.5,683.8 439.4,683.3 447.5,681.9 455.4,681.1 463.6,680.5 471.5,679.3 479.4,679.3 487.5,678.1 495.4,676.4 503.5,675.4 511.4,675.4 519.6,674.4 527.5,674.4 535.6,673.4 543.5,673.4 551.4,673.4 559.5,674.4 567.4,674.4 575.6,673.4 583.5,672 591.6,670.4 599.5,668.3 607.4,665.9 615.5,664.3 623.4,662.2 631.6,660.2 639.5,656.8 647.6,653.1 655.5,651.1 663.4,648.4 671.5,646.4 680,644.6 687.5,643.6 695.4,641.3 703.5,639.5 711.4,636.3 719.6,634.2 727.5,630.8 735.6,626.7 743.5,623.1 751.4,618.6 759.5,614.2 767.4,608.5 775.6,604.4 783.5,601.4 791.6,597.9 799.5,597.3 807.4,596.3 815.5,596.3 823.4,596.3 831.6,596.9 839.5,598.3 847.6,600 855.5,601.4 863.4,601.4 871.5,601.4 879.4,600.4 887.6,599.3 895.5,598.9 903.4,597.3 911.5,597.3 919.4,597.3 927.5,598.3 935.4,601.4 943.6,605.4 951.5,612.5 959.6,619.6 967.5,628.2 975.4,635.9 983.5,645 991.4,652.1 999.6,658.2 1007.5,661.8 1015.4,664.3 1022,664.3 1029.1,662.2 1035.4,659.2 1039.5,658.2 1047.6,657.6 1055.5,657.6 1063.4,659.2 1071.5,662.2 1079.4,665.9 1087.6,672.4 1095.5,679.5 1103.6,687.6 1111.5,696.3 1119.4,703.8 1127.5,708.9 1135.4,711.3 1143.6,714.6 1151.5,717 1159.4,719.5 1167.5,722.1 1175.4,723.5 1183.5,723.5 1191.4,723.1 1199.6,722.5 1207.5,721.1 1215.6,720.1 1223.5,718 1231.4,714 1239.5,709.9 1247.4,705.9 1255.6,702.4 1263.5,698.4 1271.6,695.7 1279.5,690 1287.4,686 1295.5,679.5 1303.4,674 1311.6,668.7 1319.5,663.9 1327.6,657.2 1335.5,652.5 1343.4,649.1 1351.5,647.4 1359.4,646.4 1360,645.4 1372.2,645.4 1384.3,646.4 1396.5,648.4 1408.7,650.5 1419.9,650.5" fill="none" stroke="#ff0000" stroke-width="1" shape-rendering="crispEdges" stroke-dasharray="3 3"/>
</g>
<g clip-path="url(#crsi)">
<g shape-rendering="crispEdges">
<line x1="0" y1="787.5" x2="1678" y2="787.5" stroke="#c0c0c0" stroke-width="1" stroke-dasharray="3 3"/>
<line x1="0" y1="838.5" x2="1678" y2="838.5" stroke="#c0c0c0" stroke-width="1" stroke-dasharray="3 3"/>
<line x1="0" y1="899.5" x2="1678" y2="899.5" stroke="#c0c0c0" stroke-width="1" stroke-dasharray="3 3"/>
</g>
<polyline points="-0.5,851.4 7.5,827.1 15.5,848.4 23.5,840.3 31.5,843.7 39.5,840.3 47.5,818 55.5,810.9 63.5,813.3 71.5,829.1 79.5,830.6 87.5,825.5 95.5,827.5 103.5,829.5 111.5,833.2 119.5,835.6 127.5,832.2 135.5,829.5 143.5,818.6 151.5,815.3 159.5,814.3 167.5,822 175.5,833.2 183.5,829.1 191.5,825.1 199.5,817.4 207.5,822.4 215.5,822.4 223.5,819.4 231.5,821 239.5,835.2 247.5,831.2 255.5,829.5 263.5,840.3 271.5,852.5 279.5,841.3 287.5,838.7 295.5,830.1 303.5,826.1 311.5,823 319.5,830.1 327.5,841.3 335.5,837.2 343.5,840.7 351.5,827.1 359.5,822.4 367.5,821.4 375.5,832.6 383.5,831.2 391.5,822.4 399.5,818 407.5,816.3 415.5,834.2 423.5,834.2 431.5,829.1 439.5,824.5 447.5,823.4 455.5,827.1 463.5,825.1 471.5,815.3 479.5,816.3 487.5,812.3 495.5,830.1 503.5,830.6 511.5,832.6 519.5,821.4 527.5,825.1 535.5,819.4 543.5,819.4 551.5,820.4 559.5,822.4 567.5,816.3 575.5,816.3 583.5,806.8 591.5,803.4 599.5,805.2 607.5,805.2 615.5,805.2 623.5,809.2 631.5,797.7 639.5,794.2 647.5,793.2 655.5,798.7 663.5,802.3 671.5,800.3 679.5,800.3 687.5,793.2 695.5,790.2 703.5,783.1 711.5,779.4 719.5,794.2 727.5,788.6 735.5,787.1 743.5,785.5 751.5,793.2 759.5,787.1 767.5,781.4 775.5,799.7 783.5,804.4 791.5,803.4 799.5,803.4 807.5,802.3 815.5,801.3 823.5,794.2 831.5,794.2 839.5,793.2 847.5,790.2 855.5,788.1 863.5,786.1 871.5,781.4 879.5,782.5 887.5,781.4 895.5,790.2 903.5,793.6 911.5,788.6 919.5,802.1 927.5,816.3 935.5,824.5 943.5,823.4 951.5,849.4 959.5,851.4 967.5,834.2 975.5,822 983.5,820.4 991.5,822.4 999.5,818.4 1007.5,809.2 1015.5,807.4 1023.5,806.2 1031.5,804.2 1039.5,829.1 1047.5,839.3 1055.5,847.4 1063.5,844.3 1071.5,844.3 1079.5,844.3 1087.5,851.4 1095.5,848.4 1103.5,851.4 1111.5,840.3 1119.5,844.3 1127.5,830.6 1135.5,838.3 1143.5,840.7 1151.5,853.5 1159.5,848.4 1167.5,850.4 1175.5,839.3 1183.5,829.1 1191.5,827.1 1199.5,822.4 1207.5,835.6 1215.5,834.2 1223.5,827.1 1231.5,825.5 1239.5,824.5 1247.5,830.6 1255.5,824.1 1263.5,820.4 1271.5,807.4 1279.5,809.4 1287.5,805.2 1295.5,812.3 1303.5,808.4 1311.5,808.4 1319.5,805.2 1327.5,807.4 1335.5,814.5 1343.5,811.5 1351.5,815.9 1359.5,819.4 1367.5,819 1375.5,823.4 1383.5,820.4 1391.5,799.3 1399.5,802.3 1407.5,802.3 1415.5,804.4 1423.5,819" fill="none" stroke="#1e90ff" stroke-width="1" shape-rendering="crispEdges" />
</g>
<g shape-rendering="crispEdges" fill="#000">
<rect x="0" y="24" width="1679" height="1" fill="#000" />
<rect x="1678" y="24" width="1" height="902" fill="#000" />
<rect x="0" y="577" width="1679" height="1" fill="#000" />
<rect x="0" y="579" width="1679" height="1" fill="#000" />
<rect x="0" y="749" width="1679" height="1" fill="#000" />
<rect x="0" y="751" width="1679" height="1" fill="#000" />
<rect x="0" y="925" width="1679" height="1" fill="#000" />
<rect x="1678" y="578" width="1" height="1" fill="#fff" />
<rect x="1678" y="750" width="1" height="1" fill="#fff" />
<rect x="1679" y="574" width="2" height="1" fill="#000" />
<rect x="1679" y="541" width="2" height="1" fill="#000" />
<rect x="1679" y="508" width="2" height="1" fill="#000" />
<rect x="1679" y="475" width="2" height="1" fill="#000" />
<rect x="1679" y="442" width="2" height="1" fill="#000" />
<rect x="1679" y="409" width="2" height="1" fill="#000" />
<rect x="1679" y="376" width="2" height="1" fill="#000" />
<rect x="1679" y="343" width="2" height="1" fill="#000" />
<rect x="1679" y="310" width="2" height="1" fill="#000" />
<rect x="1679" y="277" width="2" height="1" fill="#000" />
<rect x="1679" y="244" width="2" height="1" fill="#000" />
<rect x="1679" y="211" width="2" height="1" fill="#000" />
<rect x="1679" y="178" width="2" height="1" fill="#000" />
<rect x="1679" y="145" width="2" height="1" fill="#000" />
<rect x="1679" y="112" width="2" height="1" fill="#000" />
<rect x="1679" y="79" width="2" height="1" fill="#000" />
<rect x="1679" y="46" width="2" height="1" fill="#000" />
<rect x="1679" y="581" width="1" height="1" fill="#000" />
<rect x="1679" y="716" width="1" height="1" fill="#000" />
<rect x="1679" y="748" width="1" height="1" fill="#000" />
<rect x="1679" y="753" width="1" height="1" fill="#000" />
<rect x="1679" y="787" width="1" height="1" fill="#000" />
<rect x="1679" y="838" width="1" height="1" fill="#000" />
<rect x="1679" y="899" width="1" height="1" fill="#000" />
<rect x="1679" y="924" width="1" height="1" fill="#000" />
<rect x="55" y="926" width="1" height="3" fill="#000" />
<rect x="119" y="926" width="1" height="3" fill="#000" />
<rect x="183" y="926" width="1" height="3" fill="#000" />
<rect x="247" y="926" width="1" height="3" fill="#000" />
<rect x="311" y="926" width="1" height="3" fill="#000" />
<rect x="375" y="926" width="1" height="3" fill="#000" />
<rect x="439" y="926" width="1" height="3" fill="#000" />
<rect x="503" y="926" width="1" height="3" fill="#000" />
<rect x="567" y="926" width="1" height="3" fill="#000" />
<rect x="631" y="926" width="1" height="3" fill="#000" />
<rect x="695" y="926" width="1" height="3" fill="#000" />
<rect x="759" y="926" width="1" height="3" fill="#000" />
<rect x="823" y="926" width="1" height="3" fill="#000" />
<rect x="887" y="926" width="1" height="3" fill="#000" />
<rect x="951" y="926" width="1" height="3" fill="#000" />
<rect x="1015" y="926" width="1" height="3" fill="#000" />
<rect x="1079" y="926" width="1" height="3" fill="#000" />
<rect x="1143" y="926" width="1" height="3" fill="#000" />
<rect x="1207" y="926" width="1" height="3" fill="#000" />
<rect x="1271" y="926" width="1" height="3" fill="#000" />
<rect x="1335" y="926" width="1" height="3" fill="#000" />
<rect x="1399" y="926" width="1" height="3" fill="#000" />
</g>
<g font-family="Liberation Sans, sans-serif">
<text x="1684" y="578" font-size="10" fill="#000" textLength="32.8" lengthAdjust="spacingAndGlyphs" >134.440</text>
<text x="1684" y="545" font-size="10" fill="#000" textLength="32.8" lengthAdjust="spacingAndGlyphs" >135.800</text>
<text x="1684" y="512" font-size="10" fill="#000" textLength="32.8" lengthAdjust="spacingAndGlyphs" >137.160</text>
<text x="1684" y="479" font-size="10" fill="#000" textLength="32.8" lengthAdjust="spacingAndGlyphs" >138.520</text>
<text x="1684" y="446" font-size="10" fill="#000" textLength="32.8" lengthAdjust="spacingAndGlyphs" >139.880</text>
<text x="1684" y="413" font-size="10" fill="#000" textLength="32.8" lengthAdjust="spacingAndGlyphs" >141.240</text>
<text x="1684" y="380" font-size="10" fill="#000" textLength="32.8" lengthAdjust="spacingAndGlyphs" >142.600</text>
<text x="1684" y="347" font-size="10" fill="#000" textLength="32.8" lengthAdjust="spacingAndGlyphs" >144.000</text>
<text x="1684" y="314" font-size="10" fill="#000" textLength="32.8" lengthAdjust="spacingAndGlyphs" >145.360</text>
<text x="1684" y="281" font-size="10" fill="#000" textLength="32.8" lengthAdjust="spacingAndGlyphs" >146.720</text>
<text x="1684" y="248" font-size="10" fill="#000" textLength="32.8" lengthAdjust="spacingAndGlyphs" >148.080</text>
<text x="1684" y="215" font-size="10" fill="#000" textLength="32.8" lengthAdjust="spacingAndGlyphs" >149.440</text>
<text x="1684" y="182" font-size="10" fill="#000" textLength="32.8" lengthAdjust="spacingAndGlyphs" >150.800</text>
<text x="1684" y="149" font-size="10" fill="#000" textLength="32.8" lengthAdjust="spacingAndGlyphs" >152.160</text>
<text x="1684" y="116" font-size="10" fill="#000" textLength="32.8" lengthAdjust="spacingAndGlyphs" >153.520</text>
<text x="1684" y="83" font-size="10" fill="#000" textLength="32.8" lengthAdjust="spacingAndGlyphs" >154.880</text>
<text x="1684" y="50" font-size="10" fill="#000" textLength="32.8" lengthAdjust="spacingAndGlyphs" >156.240</text>
<text x="1681.8" y="590" font-size="10" fill="#000" textLength="28" lengthAdjust="spacingAndGlyphs" >1.7526</text>
<text x="1682" y="720" font-size="10" fill="#000" textLength="18.3" lengthAdjust="spacingAndGlyphs" >0.00</text>
<text x="1682" y="746" font-size="10" fill="#000" textLength="31" lengthAdjust="spacingAndGlyphs" >-0.4212</text>
<text x="1682" y="762" font-size="10" fill="#000" textLength="14.8" lengthAdjust="spacingAndGlyphs" >100</text>
<text x="1681" y="790.5" font-size="10" fill="#000" textLength="10.2" lengthAdjust="spacingAndGlyphs" >80</text>
<text x="1681" y="842.5" font-size="10" fill="#000" textLength="10.2" lengthAdjust="spacingAndGlyphs" >50</text>
<text x="1681" y="903.5" font-size="10" fill="#000" textLength="10.2" lengthAdjust="spacingAndGlyphs" >15</text>
<text x="1681.5" y="922.5" font-size="10" fill="#000" textLength="5" lengthAdjust="spacingAndGlyphs" >0</text>
<rect x="1680" y="27" width="41" height="11" fill="#ff0000" shape-rendering="crispEdges"/>
<text x="1684" y="36" font-size="10" fill="#fff" textLength="32.8" lengthAdjust="spacingAndGlyphs" >156.812</text>
<rect x="1680" y="44" width="41" height="11" fill="#ff0000" shape-rendering="crispEdges"/>
<text x="1684" y="53" font-size="10" fill="#fff" textLength="32.8" lengthAdjust="spacingAndGlyphs" >156.087</text>
<rect x="1680" y="61" width="41" height="11" fill="#32cd32" shape-rendering="crispEdges"/>
<text x="1684" y="70" font-size="10" fill="#fff" textLength="32.8" lengthAdjust="spacingAndGlyphs" >155.412</text>
<rect x="1680" y="74" width="41" height="11" fill="#000000" shape-rendering="crispEdges"/>
<text x="1684" y="83" font-size="10" fill="#fff" textLength="32.8" lengthAdjust="spacingAndGlyphs" >154.895</text>
<rect x="1680" y="93" width="41" height="11" fill="#0000ff" shape-rendering="crispEdges"/>
<text x="1684" y="102" font-size="10" fill="#fff" textLength="32.8" lengthAdjust="spacingAndGlyphs" >154.063</text>
<rect x="1680" y="110" width="41" height="11" fill="#0000ff" shape-rendering="crispEdges"/>
<text x="1684" y="119" font-size="10" fill="#fff" textLength="32.8" lengthAdjust="spacingAndGlyphs" >153.361</text>
<rect x="1673.5" y="97.5" width="4" height="4" fill="#fff" stroke="#0000ff" stroke-width="1" shape-rendering="crispEdges"/>
<rect x="1673.5" y="114.5" width="4" height="4" fill="#fff" stroke="#0000ff" stroke-width="1" shape-rendering="crispEdges"/>
<text x="54.3" y="937.5" font-size="10" fill="#000" textLength="54.2" lengthAdjust="spacingAndGlyphs" >10 Nov 2020</text>
<text x="118.3" y="937.5" font-size="10" fill="#000" textLength="53.2" lengthAdjust="spacingAndGlyphs" >19 Nov 2020</text>
<text x="182.3" y="937.5" font-size="10" fill="#000" textLength="53.6" lengthAdjust="spacingAndGlyphs" >29 Nov 2020</text>
<text x="246.3" y="937.5" font-size="10" fill="#000" textLength="46.9" lengthAdjust="spacingAndGlyphs" >8 Dec 2020</text>
<text x="310.3" y="937.5" font-size="10" fill="#000" textLength="51.9" lengthAdjust="spacingAndGlyphs" >17 Dec 2020</text>
<text x="374.3" y="937.5" font-size="10" fill="#000" textLength="51.9" lengthAdjust="spacingAndGlyphs" >28 Dec 2020</text>
<text x="438.3" y="937.5" font-size="10" fill="#000" textLength="43.9" lengthAdjust="spacingAndGlyphs" >7 Jan 2021</text>
<text x="502.3" y="937.5" font-size="10" fill="#000" textLength="49.2" lengthAdjust="spacingAndGlyphs" >17 Jan 2021</text>
<text x="566.3" y="937.5" font-size="10" fill="#000" textLength="49.9" lengthAdjust="spacingAndGlyphs" >26 Jan 2021</text>
<text x="630.3" y="937.5" font-size="10" fill="#000" textLength="46.9" lengthAdjust="spacingAndGlyphs" >4 Feb 2021</text>
<text x="694.3" y="937.5" font-size="10" fill="#000" textLength="51.6" lengthAdjust="spacingAndGlyphs" >14 Feb 2021</text>
<text x="758.3" y="937.5" font-size="10" fill="#000" textLength="51.2" lengthAdjust="spacingAndGlyphs" >23 Feb 2021</text>
<text x="822.3" y="937.5" font-size="10" fill="#000" textLength="46.6" lengthAdjust="spacingAndGlyphs" >4 Mar 2021</text>
<text x="886.3" y="937.5" font-size="10" fill="#000" textLength="51.6" lengthAdjust="spacingAndGlyphs" >14 Mar 2021</text>
<text x="950.3" y="937.5" font-size="10" fill="#000" textLength="51.9" lengthAdjust="spacingAndGlyphs" >23 Mar 2021</text>
<text x="1014.3" y="937.5" font-size="10" fill="#000" textLength="44.9" lengthAdjust="spacingAndGlyphs" >1 Apr 2021</text>
<text x="1078.3" y="937.5" font-size="10" fill="#000" textLength="50.2" lengthAdjust="spacingAndGlyphs" >12 Apr 2021</text>
<text x="1142.3" y="937.5" font-size="10" fill="#000" textLength="50.9" lengthAdjust="spacingAndGlyphs" >21 Apr 2021</text>
<text x="1206.3" y="937.5" font-size="10" fill="#000" textLength="50.9" lengthAdjust="spacingAndGlyphs" >30 Apr 2021</text>
<text x="1270.3" y="937.5" font-size="10" fill="#000" textLength="55.2" lengthAdjust="spacingAndGlyphs" >10 May 2021</text>
<text x="1334.3" y="937.5" font-size="10" fill="#000" textLength="54.9" lengthAdjust="spacingAndGlyphs" >19 May 2021</text>
<text x="1398.3" y="937.5" font-size="10" fill="#000" textLength="54.9" lengthAdjust="spacingAndGlyphs" >28 May 2021</text>
<text x="-8.5" y="937.5" font-size="10" fill="#000" textLength="48" lengthAdjust="spacingAndGlyphs" >1 Nov 2020</text>
<text x="6.5" y="36" font-size="10" fill="#000" textLength="62.5" lengthAdjust="spacingAndGlyphs" >GBPJPY ,Daily</text>
<text x="75.5" y="36" font-size="10" fill="#000" textLength="140.5" lengthAdjust="spacingAndGlyphs" >155.748 155.919 154.842 154.895</text>
<text x="-7.5" y="592" font-size="10" fill="#000" textLength="31" lengthAdjust="spacingAndGlyphs" >MACD</text>
<text x="23.6" y="592" font-size="10" fill="#000" textLength="37.4" lengthAdjust="spacingAndGlyphs" >(12,26,9)</text>
<text x="63.7" y="592" font-size="10" fill="#000" textLength="28.2" lengthAdjust="spacingAndGlyphs" >0.8900</text>
<text x="95.1" y="592" font-size="10" fill="#000" textLength="28.2" lengthAdjust="spacingAndGlyphs" >0.8507</text>
<text x="-6.5" y="764" font-size="10" fill="#000" textLength="17" lengthAdjust="spacingAndGlyphs" >RSI</text>
<text x="10.9" y="764" font-size="10" fill="#000" textLength="16" lengthAdjust="spacingAndGlyphs" >(14)</text>
<text x="29.8" y="764" font-size="10" fill="#000" textLength="33.5" lengthAdjust="spacingAndGlyphs" >59.5554</text>
</g>
<path d="M0 33h3v1h-3z" fill="#000"/>
<g font-family="Liberation Sans, sans-serif">
<g shape-rendering="crispEdges" fill="#ff0000">
<rect x="1144" y="67" width="10" height="1" fill="#ff0000" />
<rect x="1317" y="80" width="11" height="1" fill="#ff0000" />
<rect x="1327" y="80" width="1" height="6" fill="#ff0000" />
<rect x="1029" y="116" width="11" height="1" fill="#ff0000" />
<rect x="949" y="234" width="11" height="1" fill="#ff0000" />
<rect x="959" y="225" width="1" height="10" fill="#ff0000" />
</g>
<rect x="1154.5" y="55.5" width="73" height="24" fill="#fff" stroke="#ff0000" stroke-width="1" shape-rendering="crispEdges"/>
<text x="1156" y="75.5" font-size="23" fill="#ff0000" textLength="71.5" lengthAdjust="spacingAndGlyphs" >155.412</text>
<rect x="1256.5" y="71.5" width="61" height="18" fill="#fff" stroke="#ff0000" stroke-width="1" shape-rendering="crispEdges"/>
<text x="1258.3" y="86.7" font-size="18.2" fill="#ff0000" textLength="58.5" lengthAdjust="spacingAndGlyphs" >154.845</text>
<rect x="1328.5" y="41.5" width="61" height="18" fill="#fff" stroke="#ff0000" stroke-width="1" shape-rendering="crispEdges"/>
<text x="1330.3" y="56.6" font-size="18.2" fill="#ff0000" textLength="58.5" lengthAdjust="spacingAndGlyphs" >156.087</text>
<rect x="968.5" y="107.5" width="61" height="18" fill="#fff" stroke="#ff0000" stroke-width="1" shape-rendering="crispEdges"/>
<text x="970.3" y="122.6" font-size="18.2" fill="#ff0000" textLength="58.5" lengthAdjust="spacingAndGlyphs" >153.361</text>
<rect x="888.5" y="225.5" width="61" height="17" fill="#fff" stroke="#ff0000" stroke-width="1" shape-rendering="crispEdges"/>
<text x="890.3" y="240" font-size="18.2" fill="#ff0000" textLength="58.5" lengthAdjust="spacingAndGlyphs" >148.481</text>
</g>
<line x1="1162" y1="213" x2="1393.6" y2="55.3" stroke="#ff0000" stroke-width="3.4" shape-rendering="crispEdges"/>
<polygon points="1403.5,48.5 1396.4,59.4 1390.8,51.1" fill="#ff0000" shape-rendering="crispEdges"/>
<line x1="1403" y1="49" x2="1437.1" y2="73.6" stroke="#ff0000" stroke-width="3.2" shape-rendering="crispEdges"/>
<polygon points="1446,80 1434.2,77.6 1440,69.5" fill="#ff0000" shape-rendering="crispEdges"/>
<line x1="1315" y1="645.5" x2="1400" y2="650" stroke="#ff0000" stroke-width="3" shape-rendering="crispEdges"/>
<polygon points="1410,650.5 1399.8,654.5 1400.3,645.5" fill="#ff0000" shape-rendering="crispEdges"/>
<line x1="1390.5" y1="801.5" x2="1423.4" y2="820.1" stroke="#ff0000" stroke-width="3" shape-rendering="crispEdges"/>
<polygon points="1433,825.5 1421,824.4 1425.9,815.7" fill="#ff0000" shape-rendering="crispEdges"/>
<rect x="1349" y="61" width="131" height="8" fill="#00f400" shape-rendering="crispEdges"/>
<text x="1441" y="101.5" font-size="20.5" fill="#12f612" font-family="Liberation Sans, Noto Sans CJK SC, sans-serif" textLength="105.7" lengthAdjust="spacing">多空转折点</text>
<rect x="0" y="0" width="1725" height="20" fill="#f0f0f0" />
<rect x="0" y="20" width="1725" height="1" fill="#b4b4b4" />
<rect x="0" y="21" width="1725" height="1" fill="#8a8a8a" />
<rect x="0" y="22" width="1725" height="1" fill="#d9d9d9" />
<rect x="1724" y="20" width="1" height="922" fill="#e8e8e8" />
<polygon points="1436,25 1446,25 1441,30" fill="#b0b0b0"/>
<rect x="0" y="42" width="215" height="60" fill="#fff" />
<g font-family="Liberation Sans, sans-serif">
<rect x="-1" y="44" width="47" height="24" fill="url(#gsell)" stroke="#c20e0e" stroke-width="1"/>
<rect x="161.5" y="44.5" width="51" height="24" fill="url(#gsell)" stroke="#c20e0e" stroke-width="1"/>
<rect x="-1" y="68" width="104" height="33" fill="url(#gpan)"/>
<rect x="105" y="68" width="108" height="33" fill="url(#gpan)"/>
<rect x="0" y="67" width="42" height="1" fill="#a80000" />
<rect x="0" y="68" width="42" height="1" fill="#f06a6a" />
<rect x="165" y="67" width="44" height="1" fill="#a80000" />
<rect x="165" y="68" width="44" height="1" fill="#f06a6a" />
<rect x="162" y="67" width="3" height="2" fill="#de2c2c" />
<rect x="209" y="67" width="3.5" height="2" fill="#de2c2c" />
<rect x="42" y="67" width="3.5" height="2" fill="#de2c2c" />
<text x="6.3" y="60" font-size="12" fill="#fff" textLength="25.5" lengthAdjust="spacingAndGlyphs" >SELL</text>
<text x="174.6" y="60" font-size="12" fill="#fff" textLength="23" lengthAdjust="spacingAndGlyphs" >BUY</text>
<rect x="48.5" y="44.5" width="110" height="21" fill="#fff" stroke="#a9adb8" stroke-width="1"/>
<rect x="49.5" y="45.5" width="19" height="19" fill="url(#gbtn)"/>
<rect x="138.5" y="45.5" width="19" height="19" fill="url(#gbtn)"/>
<rect x="69" y="45" width="1" height="20" fill="#a9adb8" />
<rect x="137.5" y="45" width="1" height="20" fill="#a9adb8" />
<polygon points="55.5,53 61.5,53 58.5,56.5" fill="#4a5ad0"/>
<polygon points="144.5,56.3 150.5,56.3 147.5,52.8" fill="#4a5ad0"/>
<text x="110" y="58.8" font-size="12" fill="#000" textLength="24.5" lengthAdjust="spacingAndGlyphs" >1.00</text>
<text x="17" y="96" font-size="12" fill="#fff" textLength="20.5" lengthAdjust="spacingAndGlyphs" font-weight="bold" >154</text>
<text x="41.5" y="96.3" font-size="35" fill="#fff" textLength="35" lengthAdjust="spacingAndGlyphs" stroke="#c81818" stroke-width="0.35">89</text>
<text x="81.3" y="80" font-size="12" fill="#fff" font-weight="bold" >5</text>
<text x="126.8" y="96" font-size="12" fill="#fff" textLength="20.5" lengthAdjust="spacingAndGlyphs" font-weight="bold" >154</text>
<text x="152" y="96.3" font-size="35" fill="#fff" textLength="35" lengthAdjust="spacingAndGlyphs" stroke="#c81818" stroke-width="0.35">97</text>
<text x="192" y="80" font-size="12" fill="#fff" font-weight="bold" >5</text>
</g>
<rect x="-3" y="1.5" width="5" height="13" fill="#fff" stroke="#2c6fc7" stroke-width="1.2"/>
<rect x="14.5" y="0.5" width="11.5" height="12.5" fill="#fff" stroke="#b5a98c" stroke-width="1"/>
<path d="M17 3V8M23 2V7M20 4V10" stroke="#777" stroke-width="1"/>
<line x1="26" y1="12.5" x2="30.5" y2="16.5" stroke="#d6a317" stroke-width="2.4" stroke-linecap="round"/>
<circle cx="22.3" cy="8.8" r="5" fill="#d9ecfb" fill-opacity="0.85" stroke="#4c8fdc" stroke-width="1.2"/>
<rect x="39" y="1" width="1" height="17" fill="#a0a0a0" />
<path d="M49.5 0.5H57L60.5 4V13.5H49.5Z" fill="#fff" stroke="#8a8a8a" stroke-width="1"/>
<path d="M51.5 3.5H55M51.5 6.5H57M51.5 9H55" stroke="#8a8a8a" stroke-width="1"/>
<path d="M57.5 6.5h3.4v3.6h3.6v3.4h-3.6v3.8h-3.4v-3.8h-3.6v-3.4h3.6z" fill="#2ee02e" stroke="#0a9a0a" stroke-width="0.8"/>
<text x="68" y="11.2" font-size="12" fill="#000" font-family="Liberation Sans, Noto Sans CJK SC, sans-serif" textLength="36" lengthAdjust="spacing">新订单</text>
<path d="M116.5 9L123 1.5L131.5 6.5L131 9.5L124.5 15.5L116.5 11Z" fill="#e2ac1b" stroke="#a8750a" stroke-width="0.8"/>
<path d="M117.5 8L123.3 2.2L130.5 6.3L124.5 12.3Z" fill="#f7d75e"/>
<path d="M116.5 9.5L124.5 14L131.3 7.5L131 9.8L124.5 15.8L116.5 11.2Z" fill="#a8700c"/>
<path d="M147 1L150.5 -0.5L156.5 0.5V9.5H147Z" fill="#2f8ae6" stroke="#1c5fb0" stroke-width="0.8"/>
<rect x="150.5" y="2.5" width="5" height="5" fill="#e8f4ff"/>
<rect x="151.5" y="3.8" width="3" height="1.2" fill="#2f8ae6"/>
<path d="M146 15.5a3 3 0 0 1 0.5-6a4 4 0 0 1 7-1.3a3.5 3.5 0 0 1 5 3.5a2.2 2.2 0 0 1-1 3.8z" fill="#e8f0fb" stroke="#7f9ccc" stroke-width="1"/>
<circle cx="179.8" cy="7.8" r="7.3" fill="#e6eef9" stroke="#b9c9e6" stroke-width="1"/>
<path d="M179.8 7.8L179.8 15.2A7.4 7.4 0 0 0 187 9Z" fill="#5cb85c" fill-opacity="0.85"/>
<circle cx="179.8" cy="7.8" r="4.8" fill="none" stroke="#5b8bd8" stroke-width="1"/>
<circle cx="179.8" cy="7.8" r="2.4" fill="none" stroke="#5b8bd8" stroke-width="1"/>
<circle cx="179.8" cy="7.6" r="1.2" fill="#2a5fc4"/>
<path d="M179.8 8V15" stroke="#2e9a36" stroke-width="1.2"/>
<path d="M200 5.5L214 5.5L212 10L206.5 14.5L203 11Z" fill="#f3cc3c" stroke="#cfa018" stroke-width="0.6"/>
<ellipse cx="207" cy="4.6" rx="7.8" ry="2.6" fill="#4d9fe0"/>
<path d="M203.5 3.5Q207 -3.5 210.5 3.5Z" fill="#6db5ec"/>
<circle cx="211.4" cy="11.8" r="4" fill="#dc2210"/>
<rect x="209.6" y="10" width="3.6" height="3.6" fill="#fff"/>
<text x="220.8" y="11.3" font-size="12" fill="#000" font-family="Liberation Sans, Noto Sans CJK SC, sans-serif" textLength="46.8" lengthAdjust="spacing">自动交易</text>
<rect x="275" y="0" width="1" height="20" fill="#8c8c8c" />
<rect x="276" y="0" width="1" height="20" fill="#fdfdfd" />
<rect x="279" y="2" width="3" height="1" fill="#9a9a9a" />
<rect x="279" y="4" width="3" height="1" fill="#9a9a9a" />
<rect x="279" y="6" width="3" height="1" fill="#9a9a9a" />
<rect x="279" y="8" width="3" height="1" fill="#9a9a9a" />
<rect x="279" y="10" width="3" height="1" fill="#9a9a9a" />
<rect x="279" y="12" width="3" height="1" fill="#9a9a9a" />
<rect x="279" y="14" width="3" height="1" fill="#9a9a9a" />
<rect x="279" y="16" width="3" height="1" fill="#9a9a9a" />
<path d="M293.5 2.5V16M291.0 13.5H305.0" stroke="#555" stroke-width="1.2" fill="none"/>
<path d="M291.5 4.5L293.5 2L295.5 4.5M303.0 11.5L305.5 13.5L303.0 15.5" stroke="#555" stroke-width="1" fill="none"/>
<path d="M300.5 3.5V11M300.5 4H302.5M298 10.5H300.5" stroke="#1c9a2c" stroke-width="1.2" fill="none"/>
<rect x="313" y="1" width="1" height="17" fill="#a0a0a0" />
<rect x="314" y="0" width="24" height="20" fill="#f7f7f7" />
<path d="M321.5 2.5V16M319.0 13.5H333.0" stroke="#555" stroke-width="1.2" fill="none"/>
<path d="M319.5 4.5L321.5 2L323.5 4.5M331.0 11.5L333.5 13.5L331.0 15.5" stroke="#555" stroke-width="1" fill="none"/>
<path d="M327.5 0V12" stroke="#138a22" stroke-width="1"/>
<rect x="325.5" y="2.5" width="4" height="7.5" fill="#2fd84a" stroke="#138a22" stroke-width="1"/>
<path d="M349.5 2.5V16M347.0 13.5H361.0" stroke="#555" stroke-width="1.2" fill="none"/>
<path d="M347.5 4.5L349.5 2L351.5 4.5M359.0 11.5L361.5 13.5L359.0 15.5" stroke="#555" stroke-width="1" fill="none"/>
<path d="M348 10.5Q353 3 356 6T359.5 9" stroke="#2f9e3f" stroke-width="1.1" fill="none"/>
<rect x="370" y="1" width="1" height="17" fill="#a0a0a0" />
<line x1="388.4" y1="9.6" x2="394.4" y2="15.1" stroke="#d6a317" stroke-width="2.6" stroke-linecap="round"/>
<circle cx="384.9" cy="6.1" r="5" fill="#d9efff" stroke="#2c6fc7" stroke-width="1.4"/>
<path d="M381.9 6.1H387.9M384.9 3.0999999999999996V9.1" stroke="#3c86c9" stroke-width="1.6"/>
<line x1="416.5" y1="9.3" x2="422.5" y2="14.8" stroke="#d6a317" stroke-width="2.6" stroke-linecap="round"/>
<circle cx="413" cy="5.8" r="5" fill="#d9efff" stroke="#2c6fc7" stroke-width="1.4"/>
<path d="M410 5.8H416" stroke="#3c86c9" stroke-width="1.6"/>
<rect x="435" y="0" width="7.8" height="7.6" rx="0.8" fill="#3da21d"/>
<rect x="436.2" y="3" width="5.4" height="3.4" fill="#fff"/>
<rect x="437.2" y="4.3" width="3.4" height="1" fill="#3da21d"/>
<rect x="443.5" y="0" width="7.8" height="7.6" rx="0.8" fill="#2f6fe0"/>
<rect x="444.7" y="3" width="5.4" height="3.4" fill="#fff"/>
<rect x="445.7" y="4.3" width="3.4" height="1" fill="#2f6fe0"/>
<rect x="435" y="8" width="7.8" height="7.6" rx="0.8" fill="#2f6fe0"/>
<rect x="436.2" y="11" width="5.4" height="3.4" fill="#fff"/>
<rect x="437.2" y="12.3" width="3.4" height="1" fill="#2f6fe0"/>
<rect x="443.5" y="8" width="7.8" height="7.6" rx="0.8" fill="#3da21d"/>
<rect x="444.7" y="11" width="5.4" height="3.4" fill="#fff"/>
<rect x="445.7" y="12.3" width="3.4" height="1" fill="#3da21d"/>
<rect x="460" y="1" width="1" height="17" fill="#a0a0a0" />
<rect x="465" y="0" width="25" height="20" fill="#f7f7f7" />
<path d="M473.5 2.5V16M471.0 13.5H485.0" stroke="#555" stroke-width="1.2" fill="none"/>
<path d="M471.5 4.5L473.5 2L475.5 4.5M483.0 11.5L485.5 13.5L483.0 15.5" stroke="#555" stroke-width="1" fill="none"/>
<polygon points="478.3,4.5 482.2,7.5 478.3,10.6" fill="#47d75a" stroke="#18972b" stroke-width="0.8"/>
<rect x="493" y="1" width="1" height="17" fill="#a0a0a0" />
<rect x="494" y="0" width="24" height="20" fill="#f7f7f7" />
<path d="M501.5 2.5V16M499.0 13.5H513.0" stroke="#555" stroke-width="1.2" fill="none"/>
<path d="M499.5 4.5L501.5 2L503.5 4.5M511.0 11.5L513.5 13.5L511.0 15.5" stroke="#555" stroke-width="1" fill="none"/>
<path d="M507.5 2V12" stroke="#1f6fb8" stroke-width="1.2"/>
<path d="M509 7.5H513M511 5.5L509 7.5L511 9.5" stroke="#e0580c" stroke-width="1.1" fill="none"/>
<rect x="522" y="1" width="1" height="17" fill="#a0a0a0" />
<path d="M532.5 0.5H540L543.5 4V13.5H532.5Z" fill="#fff" stroke="#8a8a8a" stroke-width="1"/>
<path d="M534.5 3.5H538M534.5 6.5H540M534.5 9H538" stroke="#8a8a8a" stroke-width="1"/>
<path d="M540.5 6.5h3.4v3.6h3.6v3.4h-3.6v3.8h-3.4v-3.8h-3.6v-3.4h3.6z" fill="#2ee02e" stroke="#0a9a0a" stroke-width="0.8"/>
<polygon points="554,7 559.4,7 556.7,10.2" fill="#000"/>
<circle cx="577.9" cy="8.3" r="7.2" fill="#f4f8fc" stroke="#1e6fd0" stroke-width="2.2"/>
<path d="M577.9 4V8.5H581" stroke="#333" stroke-width="1.1" fill="none"/>
<rect x="576.4" y="-0.5" width="3" height="1.5" fill="#1e6fd0"/>
<polygon points="593,7 598.4,7 595.7,10.2" fill="#000"/>
<rect x="609.5" y="1.5" width="15.5" height="13.5" fill="#fff" stroke="#3a78c8" stroke-width="1"/>
<rect x="610" y="2" width="14.5" height="1.8" fill="#5b9be0" />
<rect x="610" y="8.2" width="14.5" height="0.9" fill="#3a78c8" />
<path d="M611.5 7L614 6L616 5L618 6L620.5 5.5L622.5 4.5" stroke="#a02010" stroke-width="1.1" fill="none"/>
<path d="M612 12.5L614.5 12L616 12.8L618.5 10.5L620 12L622.5 13" stroke="#1f9a2f" stroke-width="1.1" fill="none"/>
<polygon points="632,7 637.4,7 634.7,10.2" fill="#000"/>
<rect x="643" y="0" width="1" height="20" fill="#8c8c8c" />
<rect x="644" y="0" width="1" height="20" fill="#fdfdfd" />
<rect x="647" y="2" width="3" height="1" fill="#9a9a9a" />
<rect x="647" y="4" width="3" height="1" fill="#9a9a9a" />
<rect x="647" y="6" width="3" height="1" fill="#9a9a9a" />
<rect x="647" y="8" width="3" height="1" fill="#9a9a9a" />
<rect x="647" y="10" width="3" height="1" fill="#9a9a9a" />
<rect x="647" y="12" width="3" height="1" fill="#9a9a9a" />
<rect x="647" y="14" width="3" height="1" fill="#9a9a9a" />
<rect x="647" y="16" width="3" height="1" fill="#9a9a9a" />
<rect x="653" y="1" width="1" height="17" fill="#a0a0a0" />
<rect x="654" y="0" width="24" height="20" fill="#f7f7f7" />
<path d="M661.3 1.2V12.5L664 10L666.2 15L668 14.2L665.8 9.3L669.3 9.2Z" fill="#444"/>
<path d="M686 8.5H701M693.5 1.2V15.8" stroke="#555" stroke-width="1.1"/>
<rect x="710" y="1" width="1" height="17" fill="#a0a0a0" />
<path d="M727.5 2V15" stroke="#555" stroke-width="1.2"/>
<path d="M750 8.5H762" stroke="#555" stroke-width="1.2"/>
<path d="M778 15L790.5 2.5" stroke="#555" stroke-width="1.1"/>
<path d="M804 10L816 0M806 15L819 4.5M806.5 8V14M810 5V11.5M813.5 2.5V8.5M816.5 0V6" stroke="#555" stroke-width="1" fill="none"/>
<text x="815" y="17" font-size="6.5" font-weight="bold" fill="#333" font-family="Liberation Sans, sans-serif">E</text>
<line x1="833" y1="1.5" x2="846" y2="1.5" stroke="#555" stroke-width="1" stroke-dasharray="1 1"/>
<line x1="833" y1="3.7" x2="846" y2="3.7" stroke="#555" stroke-width="1" stroke-dasharray="1 1"/>
<line x1="833" y1="5.9" x2="846" y2="5.9" stroke="#555" stroke-width="1" stroke-dasharray="1 1"/>
<line x1="833" y1="8.1" x2="846" y2="8.1" stroke="#555" stroke-width="1" stroke-dasharray="1 1"/>
<line x1="833" y1="12.6" x2="843" y2="12.6" stroke="#555" stroke-width="1" stroke-dasharray="1 1"/>
<text x="843" y="17" font-size="6.5" font-weight="bold" fill="#333" font-family="Liberation Sans, sans-serif">F</text>
<text x="863.3" y="13" font-size="12" fill="#555" font-family="Liberation Sans, sans-serif" stroke="#555" stroke-width="0.3">A</text>
<rect x="890.5" y="2.5" width="11" height="12" fill="none" stroke="#555" stroke-width="1" stroke-dasharray="1 1"/>
<path d="M892.5 5H899.5M896 5V13" stroke="#555" stroke-width="1.5"/>
<polygon points="917.5,5 921,1.8 924.5,5 921,6.5" fill="#555"/>
<polygon points="924.5,12.3 928,10.8 931.5,12.3 928,15.2" fill="#555"/>
<path d="M919 9L921.5 11L926 5.5" stroke="#555" stroke-width="1.4" fill="none"/>
<polygon points="938,7 943.4,7 940.7,10.2" fill="#000"/>
<rect x="949" y="0" width="1" height="20" fill="#8c8c8c" />
<rect x="950" y="0" width="1" height="20" fill="#fdfdfd" />
<rect x="953" y="2" width="3" height="1" fill="#9a9a9a" />
<rect x="953" y="4" width="3" height="1" fill="#9a9a9a" />
<rect x="953" y="6" width="3" height="1" fill="#9a9a9a" />
<rect x="953" y="8" width="3" height="1" fill="#9a9a9a" />
<rect x="953" y="10" width="3" height="1" fill="#9a9a9a" />
<rect x="953" y="12" width="3" height="1" fill="#9a9a9a" />
<rect x="953" y="14" width="3" height="1" fill="#9a9a9a" />
<rect x="953" y="16" width="3" height="1" fill="#9a9a9a" />
<rect x="1128" y="0" width="24" height="20" fill="#f7f7f7" />
<g font-family="Liberation Sans, sans-serif" font-size="9.6" fill="#3c3c3c">
<text x="964.5" y="11.8" textLength="12.5" lengthAdjust="spacingAndGlyphs">M1</text>
<text x="992.5" y="11.8" textLength="12.5" lengthAdjust="spacingAndGlyphs">M5</text>
<text x="1018.5" y="11.8" textLength="17.7" lengthAdjust="spacingAndGlyphs">M15</text>
<text x="1046.2" y="11.8" textLength="18.2" lengthAdjust="spacingAndGlyphs">M30</text>
<text x="1077.4" y="11.8" textLength="12" lengthAdjust="spacingAndGlyphs">H1</text>
<text x="1104" y="11.8" textLength="13.2" lengthAdjust="spacingAndGlyphs">H4</text>
<text x="1133" y="11.8" textLength="12.5" lengthAdjust="spacingAndGlyphs">D1</text>
<text x="1161" y="11.8" textLength="14.2" lengthAdjust="spacingAndGlyphs">W1</text>
<text x="1187.2" y="11.8" textLength="15.2" lengthAdjust="spacingAndGlyphs">MN</text>
</g>
<rect x="1127" y="0" width="1" height="18" fill="#a0a0a0" />
<rect x="1210" y="0" width="1" height="20" fill="#a0a0a0" />
<line x1="1673" y1="12" x2="1677" y2="8" stroke="#2f6fd0" stroke-width="2" stroke-linecap="round"/>
<circle cx="1680.3" cy="4.8" r="3.4" fill="#eef5ff" stroke="#2f6fd0" stroke-width="1.5"/>
<path d="M1698 8.5a4 3 0 0 1 4-3.5h4a4 3.2 0 0 1 0 7h-3l-3 2.3l0.6-2.6a4 3 0 0 1-2.6-3.2z" fill="#f4f4f4" stroke="#bdbdbd" stroke-width="0.8"/>
<circle cx="1711.5" cy="5" r="7.6" fill="#d8260f"/>
<text x="1711.3" y="9.6" font-size="12.5" fill="#fff" text-anchor="middle" font-family="Liberation Sans, sans-serif">1</text>
</svg>
</body></html>
